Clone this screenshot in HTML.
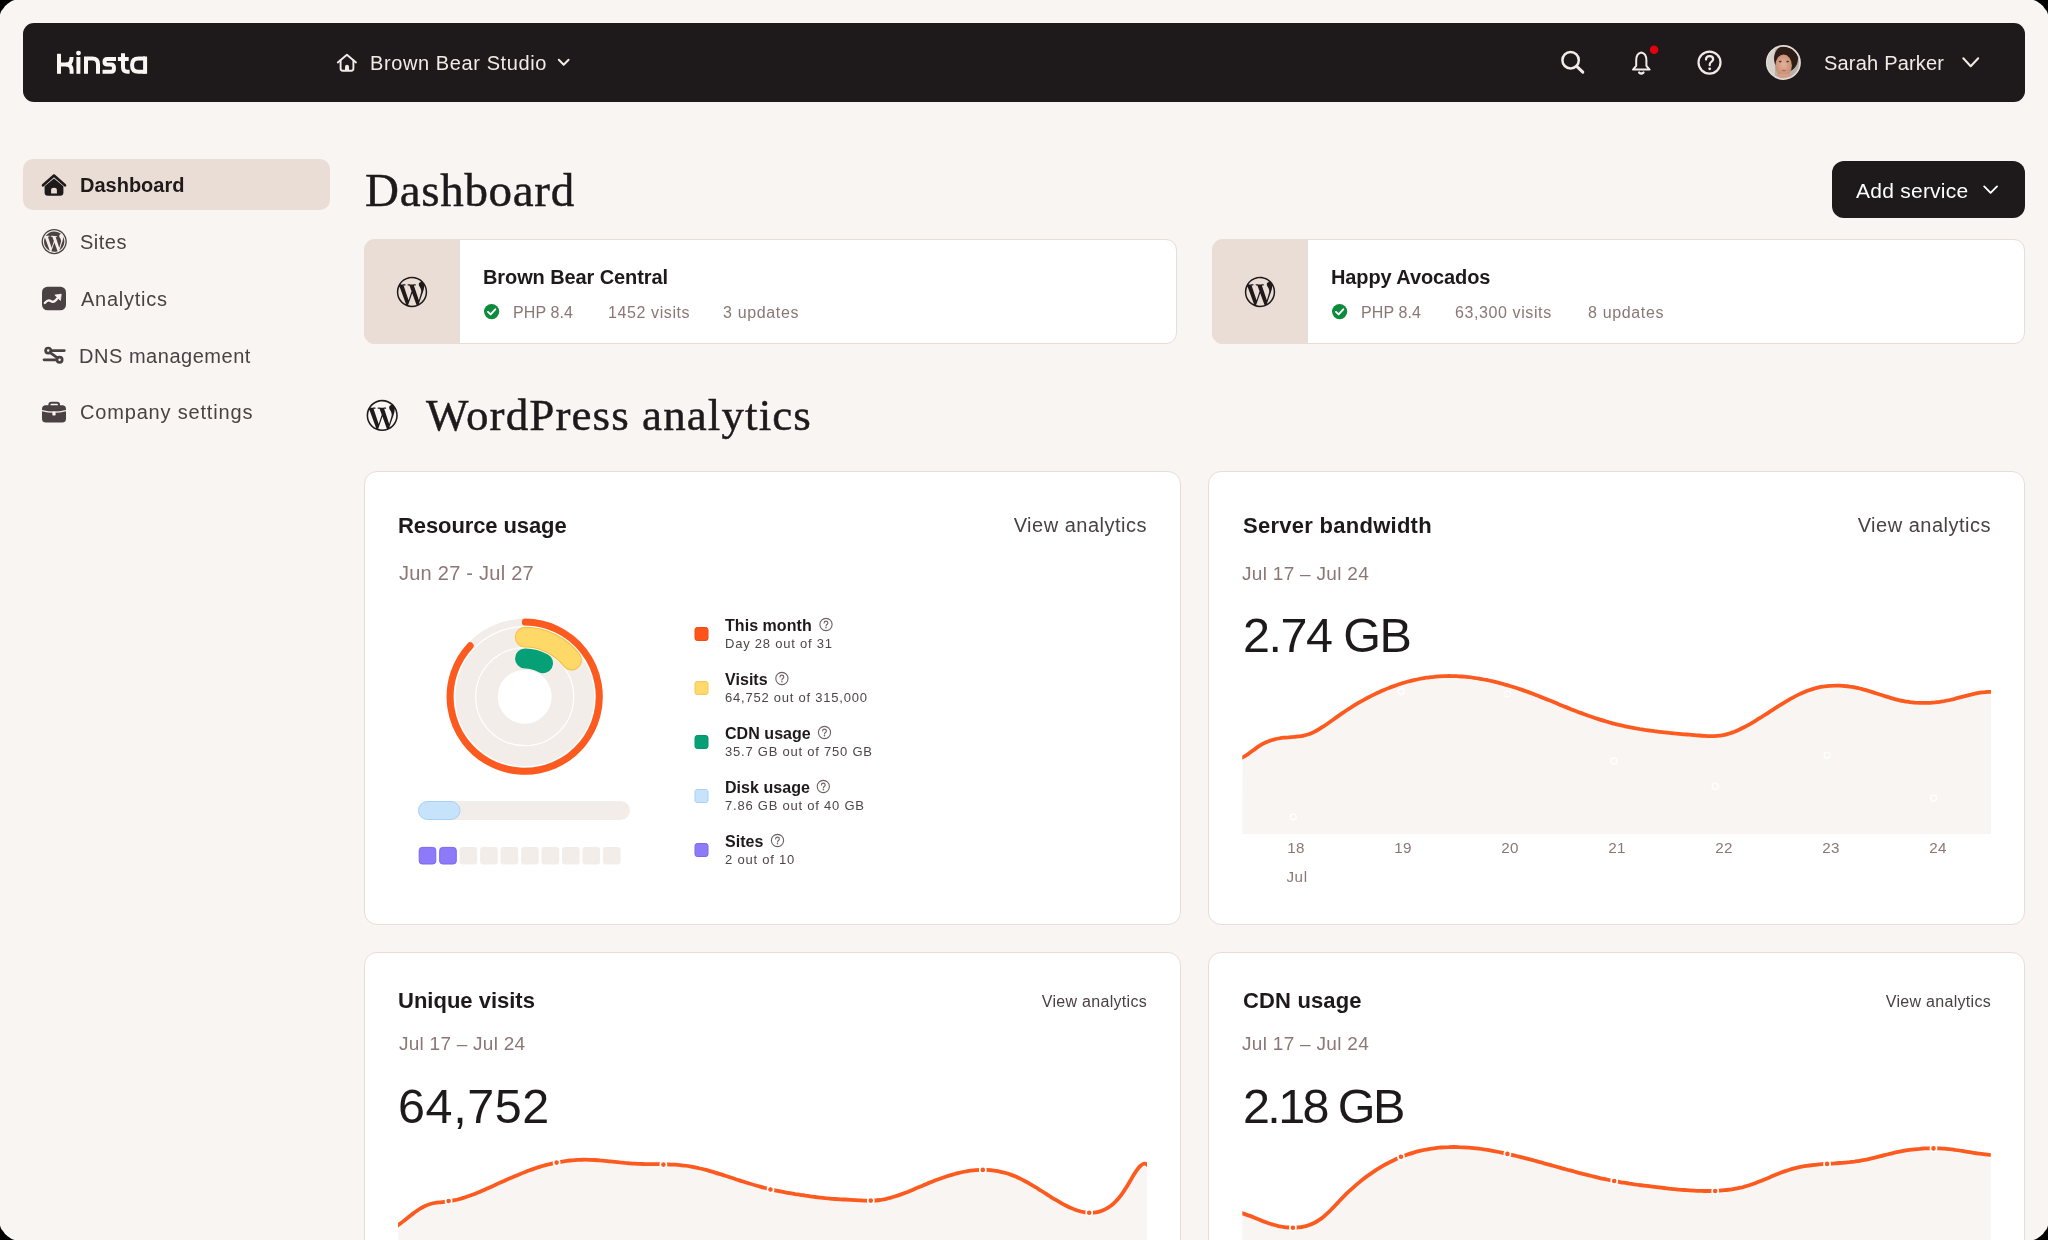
<!DOCTYPE html>
<html><head><meta charset="utf-8"><title>Kinsta Dashboard</title>
<style>
html,body{margin:0;padding:0;background:#000;width:2048px;height:1240px;overflow:hidden}
#page{position:absolute;left:0;top:0;width:2048px;height:1240px;background:#F9F5F2;overflow:hidden;font-family:"Liberation Sans",sans-serif}
.b{position:absolute;box-sizing:border-box}
.t{position:absolute;white-space:nowrap;will-change:transform}
svg{position:absolute;left:0;top:0}
</style></head><body>
<div id="page">
<div class="b" style="left:23px;top:23px;width:2002px;height:79px;background:#1E191A;border-radius:11px;"></div>
<div class="b" style="left:23px;top:159px;width:307px;height:51px;background:#EADDD5;border-radius:10px;"></div>
<div class="b" style="left:1832px;top:161px;width:193px;height:57px;background:#1E191A;border-radius:12px;"></div>
<div class="b" style="left:364px;top:239px;width:813px;height:105px;background:#FFFFFF;border-radius:11px;border:1px solid #EADDD7;overflow:hidden;"></div>
<div class="b" style="left:364px;top:239px;width:96px;height:105px;background:#EADDD5;border-radius:11px 0 0 11px"></div>
<div class="b" style="left:1212px;top:239px;width:813px;height:105px;background:#FFFFFF;border-radius:11px;border:1px solid #EADDD7;overflow:hidden;"></div>
<div class="b" style="left:1212px;top:239px;width:96px;height:105px;background:#EADDD5;border-radius:11px 0 0 11px"></div>
<div class="b" style="left:364px;top:471px;width:817px;height:454px;background:#FFFFFF;border-radius:13px;border:1px solid #EADDD7;"></div>
<div class="b" style="left:1208px;top:471px;width:817px;height:454px;background:#FFFFFF;border-radius:13px;border:1px solid #EADDD7;"></div>
<div class="b" style="left:364px;top:952px;width:817px;height:400px;background:#FFFFFF;border-radius:13px;border:1px solid #EADDD7;"></div>
<div class="b" style="left:1208px;top:952px;width:817px;height:400px;background:#FFFFFF;border-radius:13px;border:1px solid #EADDD7;"></div>
<div class="t" style="left:369.5px;top:53.0px;font-size:20px;line-height:20px;font-weight:400;color:#F2ECE8;letter-spacing:0.6px;">Brown Bear Studio</div>
<div class="t" style="left:1824.0px;top:53.0px;font-size:20px;line-height:20px;font-weight:400;color:#F2ECE8;letter-spacing:0.2px;">Sarah Parker</div>
<div class="t" style="left:80.0px;top:175.0px;font-size:20px;line-height:20px;font-weight:700;color:#1E191A;">Dashboard</div>
<div class="t" style="left:79.5px;top:231.6px;font-size:20px;line-height:20px;font-weight:400;color:#4A4143;letter-spacing:0.5px;">Sites</div>
<div class="t" style="left:81.0px;top:288.7px;font-size:20px;line-height:20px;font-weight:400;color:#4A4143;letter-spacing:0.75px;">Analytics</div>
<div class="t" style="left:79.2px;top:345.7px;font-size:20px;line-height:20px;font-weight:400;color:#4A4143;letter-spacing:0.53px;">DNS management</div>
<div class="t" style="left:80.0px;top:402.2px;font-size:20px;line-height:20px;font-weight:400;color:#4A4143;letter-spacing:0.82px;">Company settings</div>
<div class="t" style="left:364.5px;top:166.6px;font-size:47px;line-height:47px;font-weight:400;color:#1E191A;font-family:'Liberation Serif',serif;-webkit-text-stroke:0.45px #1E191A;letter-spacing:0.7px;">Dashboard</div>
<div class="t" style="left:1855.5px;top:179.5px;font-size:21px;line-height:21px;font-weight:400;color:#FFFFFF;letter-spacing:0.25px;">Add service</div>
<div class="t" style="left:483.0px;top:267.0px;font-size:20px;line-height:20px;font-weight:700;color:#1E191A;letter-spacing:-0.1px;">Brown Bear Central</div>
<div class="t" style="left:512.5px;top:304.7px;font-size:16px;line-height:16px;font-weight:400;color:#8B7775;letter-spacing:0.1px;">PHP 8.4</div>
<div class="t" style="left:607.5px;top:304.7px;font-size:16px;line-height:16px;font-weight:400;color:#8B7775;letter-spacing:0.6px;">1452 visits</div>
<div class="t" style="left:723.0px;top:304.7px;font-size:16px;line-height:16px;font-weight:400;color:#8B7775;letter-spacing:0.65px;">3 updates</div>
<div class="t" style="left:1331.0px;top:267.0px;font-size:20px;line-height:20px;font-weight:700;color:#1E191A;letter-spacing:-0.1px;">Happy Avocados</div>
<div class="t" style="left:1360.5px;top:304.7px;font-size:16px;line-height:16px;font-weight:400;color:#8B7775;letter-spacing:0.1px;">PHP 8.4</div>
<div class="t" style="left:1455.0px;top:304.7px;font-size:16px;line-height:16px;font-weight:400;color:#8B7775;letter-spacing:0.6px;">63,300 visits</div>
<div class="t" style="left:1587.5px;top:304.7px;font-size:16px;line-height:16px;font-weight:400;color:#8B7775;letter-spacing:0.65px;">8 updates</div>
<div class="t" style="left:425.5px;top:393.3px;font-size:45px;line-height:45px;font-weight:400;color:#1E191A;font-family:'Liberation Serif',serif;-webkit-text-stroke:0.45px #1E191A;letter-spacing:1.1px;">WordPress analytics</div>
<div class="t" style="left:398.0px;top:514.8px;font-size:22px;line-height:22px;font-weight:700;color:#1E191A;letter-spacing:-0.1px;">Resource usage</div>
<div class="t" style="left:1146.5px;top:515.1px;font-size:20px;line-height:20px;font-weight:400;color:#4A4143;letter-spacing:0.5px;transform:translateX(-100%);">View analytics</div>
<div class="t" style="left:398.5px;top:563.1px;font-size:20px;line-height:20px;font-weight:400;color:#8B7775;letter-spacing:0.25px;">Jun 27 - Jul 27</div>
<div class="t" style="left:725.0px;top:617.5px;font-size:16px;line-height:16px;font-weight:700;color:#1E191A;letter-spacing:0.05px;">This month</div>
<div class="t" style="left:725.0px;top:636.6px;font-size:13px;line-height:13px;font-weight:400;color:#4F4547;letter-spacing:0.77px;">Day 28 out of 31</div>
<div class="t" style="left:725.0px;top:671.5px;font-size:16px;line-height:16px;font-weight:700;color:#1E191A;letter-spacing:0.05px;">Visits</div>
<div class="t" style="left:725.0px;top:690.6px;font-size:13px;line-height:13px;font-weight:400;color:#4F4547;letter-spacing:0.77px;">64,752 out of 315,000</div>
<div class="t" style="left:725.0px;top:725.5px;font-size:16px;line-height:16px;font-weight:700;color:#1E191A;letter-spacing:0.05px;">CDN usage</div>
<div class="t" style="left:725.0px;top:744.6px;font-size:13px;line-height:13px;font-weight:400;color:#4F4547;letter-spacing:0.77px;">35.7 GB out of 750 GB</div>
<div class="t" style="left:725.0px;top:779.5px;font-size:16px;line-height:16px;font-weight:700;color:#1E191A;letter-spacing:0.05px;">Disk usage</div>
<div class="t" style="left:725.0px;top:798.6px;font-size:13px;line-height:13px;font-weight:400;color:#4F4547;letter-spacing:0.77px;">7.86 GB out of 40 GB</div>
<div class="t" style="left:725.0px;top:833.5px;font-size:16px;line-height:16px;font-weight:700;color:#1E191A;letter-spacing:0.05px;">Sites</div>
<div class="t" style="left:725.0px;top:852.6px;font-size:13px;line-height:13px;font-weight:400;color:#4F4547;letter-spacing:0.77px;">2 out of 10</div>
<div class="t" style="left:1242.5px;top:514.8px;font-size:22px;line-height:22px;font-weight:700;color:#1E191A;letter-spacing:0.27px;">Server bandwidth</div>
<div class="t" style="left:1990.5px;top:515.1px;font-size:20px;line-height:20px;font-weight:400;color:#4A4143;letter-spacing:0.5px;transform:translateX(-100%);">View analytics</div>
<div class="t" style="left:1241.5px;top:564.2px;font-size:19px;line-height:19px;font-weight:400;color:#8B7775;letter-spacing:0.3px;">Jul 17 – Jul 24</div>
<div class="t" style="left:1243.0px;top:610.9px;font-size:48.5px;line-height:48.5px;font-weight:400;color:#1E191A;letter-spacing:-1.5px;">2.74 GB</div>
<div class="t" style="left:1295.5px;top:839.5px;font-size:15.2px;line-height:15.2px;font-weight:400;color:#8B7775;letter-spacing:0.2px;transform:translateX(-50%);">18</div>
<div class="t" style="left:1402.5px;top:839.5px;font-size:15.2px;line-height:15.2px;font-weight:400;color:#8B7775;letter-spacing:0.2px;transform:translateX(-50%);">19</div>
<div class="t" style="left:1509.5px;top:839.5px;font-size:15.2px;line-height:15.2px;font-weight:400;color:#8B7775;letter-spacing:0.2px;transform:translateX(-50%);">20</div>
<div class="t" style="left:1616.5px;top:839.5px;font-size:15.2px;line-height:15.2px;font-weight:400;color:#8B7775;letter-spacing:0.2px;transform:translateX(-50%);">21</div>
<div class="t" style="left:1723.5px;top:839.5px;font-size:15.2px;line-height:15.2px;font-weight:400;color:#8B7775;letter-spacing:0.2px;transform:translateX(-50%);">22</div>
<div class="t" style="left:1830.5px;top:839.5px;font-size:15.2px;line-height:15.2px;font-weight:400;color:#8B7775;letter-spacing:0.2px;transform:translateX(-50%);">23</div>
<div class="t" style="left:1937.5px;top:839.5px;font-size:15.2px;line-height:15.2px;font-weight:400;color:#8B7775;letter-spacing:0.2px;transform:translateX(-50%);">24</div>
<div class="t" style="left:1296.5px;top:869.0px;font-size:15.2px;line-height:15.2px;font-weight:400;color:#8B7775;letter-spacing:0.6px;transform:translateX(-50%);">Jul</div>
<div class="t" style="left:398.0px;top:990.2px;font-size:22px;line-height:22px;font-weight:700;color:#1E191A;">Unique visits</div>
<div class="t" style="left:1146.5px;top:993.5px;font-size:16px;line-height:16px;font-weight:400;color:#4A4143;letter-spacing:0.3px;transform:translateX(-100%);">View analytics</div>
<div class="t" style="left:398.5px;top:1033.8px;font-size:19px;line-height:19px;font-weight:400;color:#8B7775;letter-spacing:0.25px;">Jul 17 – Jul 24</div>
<div class="t" style="left:398.0px;top:1081.7px;font-size:48.5px;line-height:48.5px;font-weight:400;color:#1E191A;letter-spacing:0.6px;">64,752</div>
<div class="t" style="left:1242.5px;top:990.2px;font-size:22px;line-height:22px;font-weight:700;color:#1E191A;letter-spacing:0.15px;">CDN usage</div>
<div class="t" style="left:1990.5px;top:993.5px;font-size:16px;line-height:16px;font-weight:400;color:#4A4143;letter-spacing:0.3px;transform:translateX(-100%);">View analytics</div>
<div class="t" style="left:1241.5px;top:1033.8px;font-size:19px;line-height:19px;font-weight:400;color:#8B7775;letter-spacing:0.3px;">Jul 17 – Jul 24</div>
<div class="t" style="left:1243.0px;top:1081.7px;font-size:48.5px;line-height:48.5px;font-weight:400;color:#1E191A;letter-spacing:-2.6px;">2.18 GB</div>
<svg width="2048" height="1240" viewBox="0 0 2048 1240">
<g fill="none" stroke="#F9F5F2" stroke-width="4"><path d="M59,53.8V73.8"/><path d="M61,64.5H66.5C70.5,64.5 71.6,61 71.6,57"/><path d="M66,64.5C70,64.5 71.6,67 71.6,70.5V73.8"/><path d="M78.4,57V73.8"/><path d="M86,73.8V58.5H92.5Q98,58.5 98,64.5V73.8"/><path d="M116,59H107.2Q104.5,59 104.5,61.75Q104.5,64.5 107.2,64.5H111Q114,64.5 114,68.15Q114,71.8 111,71.8H102.5"/><path d="M123,53.3V67.3Q123,71.8 127.5,71.8H129.6"/><path d="M117.9,59H128.7"/><path d="M145.1,73.8V56.5"/><path d="M145.1,58.5H138.5Q132.1,58.5 132.1,64.9V65.4Q132.1,71.8 138.5,71.8H145.1"/></g><circle cx="78.5" cy="53.1" r="2.45" fill="#F9F5F2"/>
<g fill="none" stroke="#F2ECE8" stroke-width="1.9" stroke-linejoin="round" stroke-linecap="round"><path d="M337.8,62.4L346.9,54.8L356,62.4"/><path d="M340.6,60.3V68.6Q340.6,70.8 342.8,70.8H351.2Q353.4,70.8 353.4,68.6V60.3"/></g><path d="M345,70.9V66.7Q345,64.7 347,64.7Q349,64.7 349,66.7V70.9Z" fill="#F2ECE8"/>
<path d="M558.8,59.8L563.7,64.7L568.6,59.8" fill="none" stroke="#F2ECE8" stroke-width="2" stroke-linecap="round" stroke-linejoin="round"/>
<g fill="none" stroke="#F2ECE8" stroke-linecap="round"><circle cx="1570.6" cy="60.2" r="8.2" stroke-width="2.5"/><path d="M1577,66.6L1582.8,72.2" stroke-width="3"/></g>
<g fill="none" stroke="#F2ECE8" stroke-width="2" stroke-linejoin="round" stroke-linecap="round"><path d="M1641.3,52.6C1638,53.2 1636.2,56 1636.2,60.5V65.8L1633,69.6H1649.6L1646.4,65.8V60.5C1646.4,56 1644.6,53.2 1641.3,52.6Z"/><circle cx="1641.3" cy="52" r="1.2" fill="{NAVTXT}" stroke="none"/><path d="M1639.2,72.6Q1641.3,74.4 1643.4,72.6" stroke-width="2.4"/></g><circle cx="1654.1" cy="49.8" r="4.3" fill="#E3000F"/>
<g fill="none" stroke="#F2ECE8" stroke-width="2.2" stroke-linecap="round"><circle cx="1709.5" cy="62.6" r="11"/><path d="M1706,59.6C1706,57.5 1707.6,56.2 1709.6,56.2C1711.6,56.2 1713.1,57.5 1713.1,59.3C1713.1,61.6 1709.7,62 1709.7,64.6V65.2"/></g><circle cx="1709.7" cy="68.8" r="1.4" fill="#F2ECE8"/>
<defs><clipPath id="av"><circle cx="1783.4" cy="62.5" r="16"/></clipPath><radialGradient id="skin" cx="0.5" cy="0.45" r="0.5"><stop offset="0" stop-color="#E2B29A"/><stop offset="1" stop-color="#C98F74"/></radialGradient></defs><g clip-path="url(#av)"><rect x="1766" y="45" width="36" height="36" fill="#B9B1AD"/><rect x="1766" y="45" width="9" height="36" fill="#D6D0CC"/><ellipse cx="1786" cy="58.5" rx="12" ry="13.5" fill="#2E1C17"/><ellipse cx="1783.6" cy="65.5" rx="8.3" ry="11" fill="url(#skin)"/><rect x="1777" y="74" width="14" height="9" fill="#D49D86"/><ellipse cx="1780.2" cy="61.6" rx="1.4" ry="0.8" fill="#4A3633"/><ellipse cx="1787.6" cy="61.6" rx="1.4" ry="0.8" fill="#4A3633"/><ellipse cx="1783.9" cy="70.6" rx="2.4" ry="0.8" fill="#B06F63"/></g><circle cx="1783.4" cy="62.5" r="16.6" fill="none" stroke="#E6DCD6" stroke-width="1.8"/>
<path d="M1963.3,58.3L1970.7,66.3L1978.2,58.3" fill="none" stroke="#F2ECE8" stroke-width="2" stroke-linecap="round" stroke-linejoin="round"/>
<path d="M43,185.3L54,175.6L65,185.3" fill="none" stroke="#1E191A" stroke-width="2.6" stroke-linecap="round" stroke-linejoin="round"/><path d="M44.6,186.3L54,178.6L63.4,186.3V192.5Q63.4,195.8 60.1,195.8H47.9Q44.6,195.8 44.6,192.5Z" fill="#1E191A"/><path d="M51.1,193.6V190Q51.1,187.7 54,187.7Q56.9,187.7 56.9,190V193.6Z" fill="#EADDD5"/>
<circle cx="54.2" cy="241.6" r="12.6" fill="#4A4143"/><path fill="#F3EEEA" transform="translate(42.90,230.30) scale(0.9417)" d="M21.469 6.825c.84 1.537 1.318 3.3 1.318 5.175 0 3.979-2.156 7.456-5.363 9.325l3.295-9.527c.615-1.54.82-2.771.82-3.864 0-.405-.026-.78-.07-1.11m-7.981.105c.647-.03 1.232-.105 1.232-.105.582-.075.514-.93-.067-.899 0 0-1.755.135-2.88.135-1.064 0-2.85-.15-2.85-.15-.585-.03-.661.855-.075.885 0 0 .54.061 1.125.09l1.68 4.605-2.37 7.08L5.354 6.9c.649-.03 1.234-.1 1.234-.1.585-.075.516-.93-.065-.896 0 0-1.746.138-2.874.138-.2 0-.438-.008-.69-.015C4.911 3.15 8.235 1.215 12 1.215c2.809 0 5.365 1.072 7.286 2.833-.046-.003-.091-.009-.141-.009-1.06 0-1.812.923-1.812 1.914 0 .89.513 1.643 1.06 2.531.411.72.89 1.643.89 2.977 0 .915-.354 1.994-.821 3.479l-1.075 3.585-3.9-11.61.001.014zM12 22.784c-1.059 0-2.081-.153-3.048-.437l3.237-9.406 3.315 9.087c.024.053.05.101.078.149-1.12.393-2.325.609-3.582.609M1.211 12c0-1.564.336-3.05.935-4.39L7.29 21.709C3.694 19.96 1.212 16.271 1.211 12M12 0C5.385 0 0 5.385 0 12s5.385 12 12 12 12-5.385 12-12S18.615 0 12 0"/>
<rect x="42" y="286.7" width="24" height="23.6" rx="5.5" fill="#4A4143"/><path d="M44.8,303C46.6,301 48.3,299.9 49.8,300.6C51.4,301.4 52.6,302.6 54.6,301.2C56,300.2 57.4,298.4 58.6,297" fill="none" stroke="#F8F4F1" stroke-width="2.3" stroke-linecap="round" stroke-linejoin="round"/><path d="M61.2,294.2L54.9,295.1L60.4,300.4Z" fill="#F8F4F1" stroke="#F8F4F1" stroke-width="0.8" stroke-linejoin="round"/>
<g fill="none" stroke="#4A4143" stroke-width="2.7" stroke-linecap="round"><circle cx="48.2" cy="350.6" r="2.6"/><path d="M51.3,350.6H64.3"/><circle cx="59.6" cy="359.8" r="2.6"/><path d="M44,359.8H56.4"/><path d="M50.2,352.6L57.4,357.8"/></g>
<rect x="49.4" y="402.8" width="9.6" height="5" rx="2" fill="none" stroke="#4A4143" stroke-width="2.1"/><rect x="42" y="405.2" width="24" height="17.4" rx="3.8" fill="#4A4143"/><path d="M42,410.6Q54,413.8 66,410.6" fill="none" stroke="#F8F4F1" stroke-width="1.3"/><rect x="52.4" y="411.6" width="3.2" height="4" rx="0.8" fill="#F8F4F1"/>
<path d="M1984.2,186.4L1990.6,192.8L1997,186.4" fill="none" stroke="#FFFFFF" stroke-width="1.9" stroke-linecap="round" stroke-linejoin="round"/>
<path fill="#1E191A" transform="translate(396.80,276.80) scale(1.2667)" d="M21.469 6.825c.84 1.537 1.318 3.3 1.318 5.175 0 3.979-2.156 7.456-5.363 9.325l3.295-9.527c.615-1.54.82-2.771.82-3.864 0-.405-.026-.78-.07-1.11m-7.981.105c.647-.03 1.232-.105 1.232-.105.582-.075.514-.93-.067-.899 0 0-1.755.135-2.88.135-1.064 0-2.85-.15-2.85-.15-.585-.03-.661.855-.075.885 0 0 .54.061 1.125.09l1.68 4.605-2.37 7.08L5.354 6.9c.649-.03 1.234-.1 1.234-.1.585-.075.516-.93-.065-.896 0 0-1.746.138-2.874.138-.2 0-.438-.008-.69-.015C4.911 3.15 8.235 1.215 12 1.215c2.809 0 5.365 1.072 7.286 2.833-.046-.003-.091-.009-.141-.009-1.06 0-1.812.923-1.812 1.914 0 .89.513 1.643 1.06 2.531.411.72.89 1.643.89 2.977 0 .915-.354 1.994-.821 3.479l-1.075 3.585-3.9-11.61.001.014zM12 22.784c-1.059 0-2.081-.153-3.048-.437l3.237-9.406 3.315 9.087c.024.053.05.101.078.149-1.12.393-2.325.609-3.582.609M1.211 12c0-1.564.336-3.05.935-4.39L7.29 21.709C3.694 19.96 1.212 16.271 1.211 12M12 0C5.385 0 0 5.385 0 12s5.385 12 12 12 12-5.385 12-12S18.615 0 12 0"/>
<circle cx="491.6" cy="311.6" r="7.6" fill="#0E8A3D"/><path d="M488,311.9L490.6,314.4L495.3,309.3" fill="none" stroke="#fff" stroke-width="1.9" stroke-linecap="round" stroke-linejoin="round"/>
<path fill="#1E191A" transform="translate(1244.80,276.80) scale(1.2667)" d="M21.469 6.825c.84 1.537 1.318 3.3 1.318 5.175 0 3.979-2.156 7.456-5.363 9.325l3.295-9.527c.615-1.54.82-2.771.82-3.864 0-.405-.026-.78-.07-1.11m-7.981.105c.647-.03 1.232-.105 1.232-.105.582-.075.514-.93-.067-.899 0 0-1.755.135-2.88.135-1.064 0-2.85-.15-2.85-.15-.585-.03-.661.855-.075.885 0 0 .54.061 1.125.09l1.68 4.605-2.37 7.08L5.354 6.9c.649-.03 1.234-.1 1.234-.1.585-.075.516-.93-.065-.896 0 0-1.746.138-2.874.138-.2 0-.438-.008-.69-.015C4.911 3.15 8.235 1.215 12 1.215c2.809 0 5.365 1.072 7.286 2.833-.046-.003-.091-.009-.141-.009-1.06 0-1.812.923-1.812 1.914 0 .89.513 1.643 1.06 2.531.411.72.89 1.643.89 2.977 0 .915-.354 1.994-.821 3.479l-1.075 3.585-3.9-11.61.001.014zM12 22.784c-1.059 0-2.081-.153-3.048-.437l3.237-9.406 3.315 9.087c.024.053.05.101.078.149-1.12.393-2.325.609-3.582.609M1.211 12c0-1.564.336-3.05.935-4.39L7.29 21.709C3.694 19.96 1.212 16.271 1.211 12M12 0C5.385 0 0 5.385 0 12s5.385 12 12 12 12-5.385 12-12S18.615 0 12 0"/>
<circle cx="1339.6" cy="311.6" r="7.6" fill="#0E8A3D"/><path d="M1336,311.9L1338.6,314.4L1343.3,309.3" fill="none" stroke="#fff" stroke-width="1.9" stroke-linecap="round" stroke-linejoin="round"/>
<path fill="#1E191A" transform="translate(366.60,399.80) scale(1.3000)" d="M21.469 6.825c.84 1.537 1.318 3.3 1.318 5.175 0 3.979-2.156 7.456-5.363 9.325l3.295-9.527c.615-1.54.82-2.771.82-3.864 0-.405-.026-.78-.07-1.11m-7.981.105c.647-.03 1.232-.105 1.232-.105.582-.075.514-.93-.067-.899 0 0-1.755.135-2.88.135-1.064 0-2.85-.15-2.85-.15-.585-.03-.661.855-.075.885 0 0 .54.061 1.125.09l1.68 4.605-2.37 7.08L5.354 6.9c.649-.03 1.234-.1 1.234-.1.585-.075.516-.93-.065-.896 0 0-1.746.138-2.874.138-.2 0-.438-.008-.69-.015C4.911 3.15 8.235 1.215 12 1.215c2.809 0 5.365 1.072 7.286 2.833-.046-.003-.091-.009-.141-.009-1.06 0-1.812.923-1.812 1.914 0 .89.513 1.643 1.06 2.531.411.72.89 1.643.89 2.977 0 .915-.354 1.994-.821 3.479l-1.075 3.585-3.9-11.61.001.014zM12 22.784c-1.059 0-2.081-.153-3.048-.437l3.237-9.406 3.315 9.087c.024.053.05.101.078.149-1.12.393-2.325.609-3.582.609M1.211 12c0-1.564.336-3.05.935-4.39L7.29 21.709C3.694 19.96 1.212 16.271 1.211 12M12 0C5.385 0 0 5.385 0 12s5.385 12 12 12 12-5.385 12-12S18.615 0 12 0"/>
<circle cx="524.7" cy="696.7" r="78" fill="#F3EDE9"/><circle cx="524.7" cy="696.7" r="70" fill="none" stroke="#FFFFFF" stroke-width="1.2"/><circle cx="524.7" cy="696.7" r="49" fill="none" stroke="#FFFFFF" stroke-width="1.2"/><circle cx="524.7" cy="696.7" r="27" fill="#FFFFFF"/>
<path d="M525.35,622.10A74.6,74.6 0 1 1 470.14,645.82" fill="none" stroke="#FC5A1E" stroke-width="7" stroke-linecap="round"/>
<path d="M525.22,637.20A59.5,59.5 0 0 1 571.59,660.07" fill="none" stroke="#F5BF3E" stroke-width="20.8" stroke-linecap="round"/>
<path d="M525.22,637.20A59.5,59.5 0 0 1 571.59,660.07" fill="none" stroke="#FFD967" stroke-width="18.8" stroke-linecap="round"/>
<path d="M525.03,658.50A38.2,38.2 0 0 1 543.10,663.23" fill="none" stroke="#05A076" stroke-width="20" stroke-linecap="round"/>
<rect x="418" y="801" width="212" height="19" rx="9.5" fill="#F3EDE9"/><rect x="418.5" y="801.5" width="41.5" height="18" rx="9" fill="#C7E2FB" stroke="#A8D0F8" stroke-width="1"/>
<rect x="419.20" y="847.4" width="16.6" height="16.6" rx="3" fill="#8C7AF8" stroke="#7A66F2" stroke-width="1"/><rect x="439.68" y="847.4" width="16.6" height="16.6" rx="3" fill="#8C7AF8" stroke="#7A66F2" stroke-width="1"/><rect x="459.66" y="846.9" width="17.6" height="17.6" rx="3" fill="#F3EDE9"/><rect x="480.14" y="846.9" width="17.6" height="17.6" rx="3" fill="#F3EDE9"/><rect x="500.62" y="846.9" width="17.6" height="17.6" rx="3" fill="#F3EDE9"/><rect x="521.10" y="846.9" width="17.6" height="17.6" rx="3" fill="#F3EDE9"/><rect x="541.58" y="846.9" width="17.6" height="17.6" rx="3" fill="#F3EDE9"/><rect x="562.06" y="846.9" width="17.6" height="17.6" rx="3" fill="#F3EDE9"/><rect x="582.54" y="846.9" width="17.6" height="17.6" rx="3" fill="#F3EDE9"/><rect x="603.02" y="846.9" width="17.6" height="17.6" rx="3" fill="#F3EDE9"/>
<rect x="695" y="627.5" width="13" height="13" rx="2.2" fill="#FD5419" stroke="#F04A12" stroke-width="1"/>
<circle cx="826" cy="624.5" r="6.1" fill="none" stroke="#6E6062" stroke-width="1.1"/><path d="M824.1,623.0C824.1,621.6 825.0,621.1 826.0,621.1C827.1,621.1 827.9,621.8 827.9,622.9C827.9,624.3 826.0,624.6 826.0,625.9" fill="none" stroke="#6E6062" stroke-width="1.1" stroke-linecap="round"/><circle cx="826" cy="627.7" r="0.8" fill="#6E6062"/>
<rect x="695" y="681.5" width="13" height="13" rx="2.2" fill="#FFD96B" stroke="#F9C84A" stroke-width="1"/>
<circle cx="781.9" cy="678.5" r="6.1" fill="none" stroke="#6E6062" stroke-width="1.1"/><path d="M780.0,677.0C780.0,675.6 780.9,675.1 781.9,675.1C783.0,675.1 783.8,675.8 783.8,676.9C783.8,678.3 781.9,678.6 781.9,679.9" fill="none" stroke="#6E6062" stroke-width="1.1" stroke-linecap="round"/><circle cx="781.9" cy="681.7" r="0.8" fill="#6E6062"/>
<rect x="695" y="735.5" width="13" height="13" rx="2.2" fill="#05A076" stroke="#05956D" stroke-width="1"/>
<circle cx="824.5" cy="732.5" r="6.1" fill="none" stroke="#6E6062" stroke-width="1.1"/><path d="M822.6,731.0C822.6,729.6 823.5,729.1 824.5,729.1C825.6,729.1 826.4,729.8 826.4,730.9C826.4,732.3 824.5,732.6 824.5,733.9" fill="none" stroke="#6E6062" stroke-width="1.1" stroke-linecap="round"/><circle cx="824.5" cy="735.7" r="0.8" fill="#6E6062"/>
<rect x="695" y="789.5" width="13" height="13" rx="2.2" fill="#C7E2FB" stroke="#A8D0F8" stroke-width="1"/>
<circle cx="823.3" cy="786.5" r="6.1" fill="none" stroke="#6E6062" stroke-width="1.1"/><path d="M821.4,785.0C821.4,783.6 822.3,783.1 823.3,783.1C824.4,783.1 825.2,783.8 825.2,784.9C825.2,786.3 823.3,786.6 823.3,787.9" fill="none" stroke="#6E6062" stroke-width="1.1" stroke-linecap="round"/><circle cx="823.3" cy="789.7" r="0.8" fill="#6E6062"/>
<rect x="695" y="843.5" width="13" height="13" rx="2.2" fill="#8C7AF8" stroke="#7A66F2" stroke-width="1"/>
<circle cx="777.5" cy="840.5" r="6.1" fill="none" stroke="#6E6062" stroke-width="1.1"/><path d="M775.6,839.0C775.6,837.6 776.5,837.1 777.5,837.1C778.6,837.1 779.4,837.8 779.4,838.9C779.4,840.3 777.5,840.6 777.5,841.9" fill="none" stroke="#6E6062" stroke-width="1.1" stroke-linecap="round"/><circle cx="777.5" cy="843.7" r="0.8" fill="#6E6062"/>
<defs><clipPath id="cc1"><rect x="1242.3" y="0" width="748.7" height="1240"/></clipPath></defs>
<path d="M1242.6,757.5 C1243.4,756.9 1245.9,755.5 1247.6,754.4 C1249.3,753.3 1251.0,752.0 1252.6,750.7 C1254.3,749.5 1256.0,748.2 1257.7,747.1 C1259.3,745.9 1261.0,744.8 1262.7,743.9 C1264.4,743.0 1266.0,742.2 1267.7,741.5 C1269.4,740.9 1271.1,740.3 1272.7,739.8 C1274.4,739.3 1276.1,739.0 1277.8,738.6 C1279.4,738.3 1281.1,738.1 1282.8,737.8 C1284.5,737.6 1286.1,737.5 1287.8,737.3 C1289.5,737.2 1291.2,737.1 1292.8,736.9 C1294.5,736.8 1296.2,736.7 1297.9,736.5 C1299.5,736.3 1301.2,736.1 1302.9,735.8 C1304.5,735.5 1306.2,735.1 1307.9,734.5 C1309.6,734.0 1311.2,733.3 1312.9,732.5 C1314.6,731.8 1316.3,730.8 1317.9,729.8 C1319.6,728.9 1321.3,727.8 1323.0,726.7 C1324.6,725.6 1326.3,724.4 1328.0,723.3 C1329.7,722.1 1331.3,720.9 1333.0,719.7 C1334.7,718.5 1336.4,717.3 1338.0,716.1 C1339.7,715.0 1341.4,713.8 1343.1,712.7 C1344.7,711.5 1346.4,710.4 1348.1,709.3 C1349.8,708.3 1351.4,707.2 1353.1,706.2 C1354.8,705.1 1356.5,704.1 1358.1,703.1 C1359.8,702.1 1361.5,701.2 1363.1,700.3 C1364.8,699.3 1366.5,698.4 1368.2,697.5 C1369.8,696.7 1371.5,695.8 1373.2,695.0 C1374.9,694.1 1376.5,693.3 1378.2,692.6 C1379.9,691.8 1381.6,691.0 1383.2,690.3 C1384.9,689.6 1386.6,688.9 1388.3,688.2 C1389.9,687.5 1391.6,686.9 1393.3,686.3 C1395.0,685.7 1396.6,685.1 1398.3,684.5 C1400.0,684.0 1401.7,683.4 1403.3,682.9 C1405.0,682.4 1406.7,681.9 1408.4,681.5 C1410.0,681.0 1411.7,680.6 1413.4,680.2 C1415.1,679.8 1416.7,679.4 1418.4,679.1 C1420.1,678.8 1421.7,678.5 1423.4,678.2 C1425.1,677.9 1426.8,677.6 1428.4,677.4 C1430.1,677.2 1431.8,677.0 1433.5,676.8 C1435.1,676.6 1436.8,676.5 1438.5,676.4 C1440.2,676.3 1441.8,676.2 1443.5,676.1 C1445.2,676.1 1446.9,676.1 1448.5,676.0 C1450.2,676.0 1451.9,676.1 1453.6,676.1 C1455.2,676.1 1456.9,676.2 1458.6,676.3 C1460.3,676.4 1461.9,676.5 1463.6,676.7 C1465.3,676.8 1467.0,677.0 1468.6,677.2 C1470.3,677.4 1472.0,677.6 1473.6,677.8 C1475.3,678.0 1477.0,678.3 1478.7,678.6 C1480.3,678.8 1482.0,679.1 1483.7,679.4 C1485.4,679.8 1487.0,680.1 1488.7,680.5 C1490.4,680.8 1492.1,681.2 1493.7,681.6 C1495.4,682.0 1497.1,682.4 1498.8,682.8 C1500.4,683.3 1502.1,683.7 1503.8,684.2 C1505.5,684.6 1507.1,685.1 1508.8,685.6 C1510.5,686.1 1512.2,686.6 1513.8,687.2 C1515.5,687.7 1517.2,688.2 1518.9,688.8 C1520.5,689.4 1522.2,689.9 1523.9,690.5 C1525.6,691.1 1527.2,691.7 1528.9,692.3 C1530.6,692.9 1532.2,693.6 1533.9,694.2 C1535.6,694.9 1537.3,695.5 1538.9,696.2 C1540.6,696.8 1542.3,697.5 1544.0,698.2 C1545.6,698.8 1547.3,699.5 1549.0,700.2 C1550.7,700.9 1552.3,701.6 1554.0,702.3 C1555.7,702.9 1557.4,703.6 1559.0,704.3 C1560.7,705.0 1562.4,705.7 1564.1,706.4 C1565.7,707.0 1567.4,707.7 1569.1,708.4 C1570.8,709.1 1572.4,709.7 1574.1,710.4 C1575.8,711.0 1577.5,711.7 1579.1,712.3 C1580.8,713.0 1582.5,713.6 1584.2,714.2 C1585.8,714.8 1587.5,715.4 1589.2,716.0 C1590.8,716.6 1592.5,717.2 1594.2,717.7 C1595.9,718.3 1597.5,718.8 1599.2,719.4 C1600.9,719.9 1602.6,720.4 1604.2,720.9 C1605.9,721.4 1607.6,721.9 1609.3,722.4 C1610.9,722.8 1612.6,723.3 1614.3,723.7 C1616.0,724.2 1617.6,724.6 1619.3,725.0 C1621.0,725.4 1622.7,725.8 1624.3,726.1 C1626.0,726.5 1627.7,726.8 1629.4,727.2 C1631.0,727.5 1632.7,727.8 1634.4,728.1 C1636.1,728.4 1637.7,728.7 1639.4,729.0 C1641.1,729.3 1642.8,729.5 1644.4,729.8 C1646.1,730.0 1647.8,730.3 1649.4,730.5 C1651.1,730.7 1652.8,731.0 1654.5,731.2 C1656.1,731.4 1657.8,731.6 1659.5,731.8 C1661.2,732.0 1662.8,732.2 1664.5,732.3 C1666.2,732.5 1667.9,732.7 1669.5,732.9 C1671.2,733.0 1672.9,733.2 1674.6,733.4 C1676.2,733.5 1677.9,733.7 1679.6,733.9 C1681.3,734.0 1682.9,734.2 1684.6,734.3 C1686.3,734.5 1688.0,734.6 1689.6,734.7 C1691.3,734.9 1693.0,735.0 1694.7,735.2 C1696.3,735.3 1698.0,735.4 1699.7,735.6 C1701.4,735.7 1703.0,735.8 1704.7,735.9 C1706.4,736.0 1708.0,736.1 1709.7,736.2 C1711.4,736.2 1713.1,736.2 1714.7,736.1 C1716.4,736.1 1718.1,735.9 1719.8,735.7 C1721.4,735.5 1723.1,735.2 1724.8,734.8 C1726.5,734.4 1728.1,733.9 1729.8,733.4 C1731.5,732.8 1733.2,732.2 1734.8,731.5 C1736.5,730.9 1738.2,730.1 1739.9,729.4 C1741.5,728.6 1743.2,727.7 1744.9,726.8 C1746.6,726.0 1748.2,725.0 1749.9,724.1 C1751.6,723.1 1753.3,722.1 1754.9,721.1 C1756.6,720.1 1758.3,719.0 1760.0,718.0 C1761.6,716.9 1763.3,715.8 1765.0,714.8 C1766.6,713.7 1768.3,712.6 1770.0,711.5 C1771.7,710.4 1773.3,709.3 1775.0,708.3 C1776.7,707.2 1778.4,706.1 1780.0,705.1 C1781.7,704.1 1783.4,703.0 1785.1,702.0 C1786.7,701.0 1788.4,700.1 1790.1,699.1 C1791.8,698.2 1793.4,697.3 1795.1,696.4 C1796.8,695.5 1798.5,694.7 1800.1,693.9 C1801.8,693.1 1803.5,692.4 1805.2,691.7 C1806.8,691.0 1808.5,690.4 1810.2,689.8 C1811.9,689.2 1813.5,688.7 1815.2,688.3 C1816.9,687.8 1818.5,687.5 1820.2,687.1 C1821.9,686.8 1823.6,686.5 1825.2,686.3 C1826.9,686.1 1828.6,685.9 1830.3,685.8 C1831.9,685.7 1833.6,685.6 1835.3,685.6 C1837.0,685.6 1838.6,685.6 1840.3,685.7 C1842.0,685.7 1843.7,685.9 1845.3,686.0 C1847.0,686.2 1848.7,686.4 1850.4,686.7 C1852.0,686.9 1853.7,687.2 1855.4,687.6 C1857.1,687.9 1858.7,688.3 1860.4,688.7 C1862.1,689.1 1863.8,689.5 1865.4,690.0 C1867.1,690.5 1868.8,691.0 1870.5,691.5 C1872.1,692.0 1873.8,692.6 1875.5,693.1 C1877.1,693.6 1878.8,694.2 1880.5,694.7 C1882.2,695.3 1883.8,695.8 1885.5,696.3 C1887.2,696.9 1888.9,697.4 1890.5,697.9 C1892.2,698.4 1893.9,698.8 1895.6,699.3 C1897.2,699.7 1898.9,700.1 1900.6,700.5 C1902.3,700.8 1903.9,701.2 1905.6,701.4 C1907.3,701.7 1909.0,702.0 1910.6,702.2 C1912.3,702.4 1914.0,702.5 1915.7,702.6 C1917.3,702.8 1919.0,702.8 1920.7,702.9 C1922.4,702.9 1924.0,702.9 1925.7,702.9 C1927.4,702.9 1929.1,702.8 1930.7,702.7 C1932.4,702.6 1934.1,702.5 1935.7,702.3 C1937.4,702.1 1939.1,701.9 1940.8,701.7 C1942.4,701.4 1944.1,701.1 1945.8,700.8 C1947.5,700.5 1949.1,700.1 1950.8,699.8 C1952.5,699.4 1954.2,698.9 1955.8,698.5 C1957.5,698.1 1959.2,697.6 1960.9,697.2 C1962.5,696.7 1964.2,696.3 1965.9,695.8 C1967.6,695.4 1969.2,695.0 1970.9,694.6 C1972.6,694.1 1974.3,693.8 1975.9,693.4 C1977.6,693.1 1979.3,692.8 1981.0,692.5 C1982.6,692.3 1984.3,692.1 1986.0,692.0 C1987.7,691.9 1990.2,691.9 1991.0,691.9 L1991,834 L1242.3,834 Z" fill="#F9F5F2"/>
<path d="M1238.6,759.0 C1239.4,758.7 1241.9,757.8 1243.6,756.9 C1245.3,756.0 1246.9,754.9 1248.6,753.7 C1250.3,752.6 1252.0,751.2 1253.6,750.0 C1255.3,748.8 1257.0,747.5 1258.6,746.4 C1260.3,745.3 1262.0,744.3 1263.6,743.4 C1265.3,742.5 1267.0,741.8 1268.7,741.2 C1270.3,740.5 1272.0,740.0 1273.7,739.6 C1275.3,739.1 1277.0,738.8 1278.7,738.5 C1280.3,738.2 1282.0,737.9 1283.7,737.7 C1285.4,737.5 1287.0,737.4 1288.7,737.3 C1290.4,737.1 1292.0,737.0 1293.7,736.9 C1295.4,736.7 1297.0,736.6 1298.7,736.4 C1300.4,736.2 1302.1,736.0 1303.7,735.6 C1305.4,735.3 1307.1,734.8 1308.7,734.3 C1310.4,733.7 1312.1,733.0 1313.7,732.1 C1315.4,731.3 1317.1,730.4 1318.7,729.4 C1320.4,728.4 1322.1,727.3 1323.8,726.2 C1325.4,725.1 1327.1,723.9 1328.8,722.7 C1330.4,721.6 1332.1,720.4 1333.8,719.2 C1335.4,718.0 1337.1,716.8 1338.8,715.6 C1340.5,714.5 1342.1,713.3 1343.8,712.2 C1345.5,711.0 1347.1,709.9 1348.8,708.9 C1350.5,707.8 1352.1,706.7 1353.8,705.7 C1355.5,704.7 1357.2,703.7 1358.8,702.7 C1360.5,701.7 1362.2,700.8 1363.8,699.9 C1365.5,699.0 1367.2,698.1 1368.8,697.2 C1370.5,696.3 1372.2,695.5 1373.9,694.6 C1375.5,693.8 1377.2,693.0 1378.9,692.3 C1380.5,691.5 1382.2,690.7 1383.9,690.0 C1385.5,689.3 1387.2,688.6 1388.9,688.0 C1390.5,687.3 1392.2,686.7 1393.9,686.1 C1395.6,685.5 1397.2,684.9 1398.9,684.3 C1400.6,683.8 1402.2,683.2 1403.9,682.7 C1405.6,682.2 1407.2,681.8 1408.9,681.3 C1410.6,680.9 1412.3,680.5 1413.9,680.1 C1415.6,679.7 1417.3,679.3 1418.9,679.0 C1420.6,678.7 1422.3,678.4 1423.9,678.1 C1425.6,677.8 1427.3,677.6 1429.0,677.3 C1430.6,677.1 1432.3,676.9 1434.0,676.8 C1435.6,676.6 1437.3,676.5 1439.0,676.4 C1440.6,676.3 1442.3,676.2 1444.0,676.1 C1445.6,676.1 1447.3,676.0 1449.0,676.0 C1450.7,676.0 1452.3,676.1 1454.0,676.1 C1455.7,676.2 1457.3,676.2 1459.0,676.3 C1460.7,676.4 1462.3,676.6 1464.0,676.7 C1465.7,676.9 1467.4,677.0 1469.0,677.2 C1470.7,677.4 1472.4,677.6 1474.0,677.9 C1475.7,678.1 1477.4,678.3 1479.0,678.6 C1480.7,678.9 1482.4,679.2 1484.1,679.5 C1485.7,679.8 1487.4,680.2 1489.1,680.5 C1490.7,680.9 1492.4,681.3 1494.1,681.7 C1495.7,682.1 1497.4,682.5 1499.1,682.9 C1500.8,683.3 1502.4,683.8 1504.1,684.3 C1505.8,684.7 1507.4,685.2 1509.1,685.7 C1510.8,686.2 1512.4,686.7 1514.1,687.2 C1515.8,687.8 1517.4,688.3 1519.1,688.9 C1520.8,689.4 1522.5,690.0 1524.1,690.6 C1525.8,691.2 1527.5,691.8 1529.1,692.4 C1530.8,693.0 1532.5,693.7 1534.1,694.3 C1535.8,694.9 1537.5,695.6 1539.2,696.2 C1540.8,696.9 1542.5,697.6 1544.2,698.2 C1545.8,698.9 1547.5,699.6 1549.2,700.3 C1550.8,700.9 1552.5,701.6 1554.2,702.3 C1555.9,703.0 1557.5,703.7 1559.2,704.4 C1560.9,705.1 1562.5,705.7 1564.2,706.4 C1565.9,707.1 1567.5,707.8 1569.2,708.4 C1570.9,709.1 1572.6,709.8 1574.2,710.4 C1575.9,711.1 1577.6,711.7 1579.2,712.4 C1580.9,713.0 1582.6,713.6 1584.2,714.2 C1585.9,714.8 1587.6,715.4 1589.2,716.0 C1590.9,716.6 1592.6,717.2 1594.3,717.7 C1595.9,718.3 1597.6,718.8 1599.3,719.4 C1600.9,719.9 1602.6,720.4 1604.3,720.9 C1605.9,721.4 1607.6,721.9 1609.3,722.4 C1611.0,722.8 1612.6,723.3 1614.3,723.7 C1616.0,724.2 1617.6,724.6 1619.3,725.0 C1621.0,725.4 1622.6,725.8 1624.3,726.1 C1626.0,726.5 1627.7,726.8 1629.3,727.2 C1631.0,727.5 1632.7,727.8 1634.3,728.1 C1636.0,728.4 1637.7,728.7 1639.3,729.0 C1641.0,729.3 1642.7,729.5 1644.4,729.8 C1646.0,730.0 1647.7,730.3 1649.4,730.5 C1651.0,730.7 1652.7,730.9 1654.4,731.2 C1656.0,731.4 1657.7,731.6 1659.4,731.8 C1661.0,732.0 1662.7,732.2 1664.4,732.3 C1666.1,732.5 1667.7,732.7 1669.4,732.9 C1671.1,733.0 1672.7,733.2 1674.4,733.4 C1676.1,733.5 1677.7,733.7 1679.4,733.8 C1681.1,734.0 1682.8,734.1 1684.4,734.3 C1686.1,734.4 1687.8,734.6 1689.4,734.7 C1691.1,734.9 1692.8,735.0 1694.4,735.1 C1696.1,735.3 1697.8,735.4 1699.5,735.5 C1701.1,735.7 1702.8,735.8 1704.5,735.9 C1706.1,736.0 1707.8,736.1 1709.5,736.1 C1711.1,736.2 1712.8,736.2 1714.5,736.1 C1716.2,736.1 1717.8,736.0 1719.5,735.7 C1721.2,735.5 1722.8,735.2 1724.5,734.8 C1726.2,734.5 1727.8,734.0 1729.5,733.5 C1731.2,732.9 1732.8,732.3 1734.5,731.7 C1736.2,731.0 1737.9,730.3 1739.5,729.5 C1741.2,728.7 1742.9,727.9 1744.5,727.0 C1746.2,726.2 1747.9,725.2 1749.5,724.3 C1751.2,723.3 1752.9,722.3 1754.6,721.3 C1756.2,720.3 1757.9,719.3 1759.6,718.2 C1761.2,717.2 1762.9,716.1 1764.6,715.0 C1766.2,714.0 1767.9,712.9 1769.6,711.8 C1771.3,710.7 1772.9,709.6 1774.6,708.6 C1776.3,707.5 1777.9,706.4 1779.6,705.4 C1781.3,704.3 1782.9,703.3 1784.6,702.3 C1786.3,701.3 1788.0,700.3 1789.6,699.4 C1791.3,698.4 1793.0,697.5 1794.6,696.6 C1796.3,695.8 1798.0,694.9 1799.6,694.1 C1801.3,693.3 1803.0,692.6 1804.6,691.9 C1806.3,691.2 1808.0,690.6 1809.7,690.0 C1811.3,689.4 1813.0,688.9 1814.7,688.4 C1816.3,688.0 1818.0,687.6 1819.7,687.2 C1821.3,686.9 1823.0,686.6 1824.7,686.4 C1826.4,686.1 1828.0,685.9 1829.7,685.8 C1831.4,685.7 1833.0,685.6 1834.7,685.6 C1836.4,685.5 1838.0,685.6 1839.7,685.6 C1841.4,685.7 1843.1,685.8 1844.7,686.0 C1846.4,686.1 1848.1,686.3 1849.7,686.6 C1851.4,686.8 1853.1,687.1 1854.7,687.4 C1856.4,687.8 1858.1,688.1 1859.7,688.5 C1861.4,688.9 1863.1,689.4 1864.8,689.8 C1866.4,690.3 1868.1,690.8 1869.8,691.3 C1871.4,691.8 1873.1,692.3 1874.8,692.9 C1876.4,693.4 1878.1,693.9 1879.8,694.5 C1881.5,695.0 1883.1,695.6 1884.8,696.1 C1886.5,696.6 1888.1,697.2 1889.8,697.6 C1891.5,698.1 1893.1,698.6 1894.8,699.1 C1896.5,699.5 1898.2,699.9 1899.8,700.3 C1901.5,700.7 1903.2,701.0 1904.8,701.3 C1906.5,701.6 1908.2,701.8 1909.8,702.1 C1911.5,702.3 1913.2,702.4 1914.9,702.6 C1916.5,702.7 1918.2,702.8 1919.9,702.9 C1921.5,702.9 1923.2,702.9 1924.9,702.9 C1926.5,702.9 1928.2,702.8 1929.9,702.8 C1931.5,702.7 1933.2,702.5 1934.9,702.4 C1936.6,702.2 1938.2,702.0 1939.9,701.8 C1941.6,701.5 1943.2,701.3 1944.9,701.0 C1946.6,700.7 1948.2,700.3 1949.9,700.0 C1951.6,699.6 1953.3,699.2 1954.9,698.8 C1956.6,698.3 1958.3,697.9 1959.9,697.4 C1961.6,697.0 1963.3,696.5 1964.9,696.1 C1966.6,695.6 1968.3,695.2 1970.0,694.8 C1971.6,694.4 1973.3,694.0 1975.0,693.6 C1976.6,693.3 1978.3,693.0 1980.0,692.7 C1981.6,692.4 1983.3,692.2 1985.0,692.1 C1986.7,691.9 1988.3,691.8 1990.0,691.9 C1991.7,691.9 1994.2,692.1 1995.0,692.1" fill="none" stroke="#FC5A1E" stroke-width="3.8" clip-path="url(#cc1)"/>
<circle cx="1293.2" cy="816.8" r="3" fill="none" stroke="#FFFFFF" stroke-width="1.3"/>
<circle cx="1401.2" cy="691.5" r="3" fill="none" stroke="#FFFFFF" stroke-width="1.3"/>
<circle cx="1507.3" cy="693.8" r="3" fill="none" stroke="#FFFFFF" stroke-width="1.3"/>
<circle cx="1614.1" cy="761" r="3" fill="none" stroke="#FFFFFF" stroke-width="1.3"/>
<circle cx="1715.2" cy="786.3" r="3" fill="none" stroke="#FFFFFF" stroke-width="1.3"/>
<circle cx="1827.1" cy="755.2" r="3" fill="none" stroke="#FFFFFF" stroke-width="1.3"/>
<circle cx="1933.6" cy="798.1" r="3" fill="none" stroke="#FFFFFF" stroke-width="1.3"/>
<defs><clipPath id="cc2"><rect x="398.1" y="0" width="748.9" height="1240"/></clipPath></defs>
<path d="M398.4,1224.9 C399.2,1224.3 401.7,1222.4 403.4,1221.1 C405.1,1219.9 406.8,1218.5 408.4,1217.2 C410.1,1215.9 411.8,1214.5 413.5,1213.3 C415.1,1212.0 416.8,1210.8 418.5,1209.7 C420.2,1208.6 421.8,1207.5 423.5,1206.7 C425.2,1205.8 426.9,1205.1 428.5,1204.5 C430.2,1203.9 431.9,1203.5 433.6,1203.2 C435.2,1202.8 436.9,1202.6 438.6,1202.4 C440.3,1202.2 441.9,1202.1 443.6,1201.9 C445.3,1201.7 447.0,1201.5 448.6,1201.3 C450.3,1201.0 452.0,1200.8 453.7,1200.4 C455.3,1200.1 457.0,1199.7 458.7,1199.2 C460.4,1198.8 462.0,1198.3 463.7,1197.8 C465.4,1197.3 467.1,1196.7 468.7,1196.1 C470.4,1195.5 472.1,1194.9 473.8,1194.2 C475.4,1193.6 477.1,1192.9 478.8,1192.2 C480.5,1191.5 482.1,1190.8 483.8,1190.0 C485.5,1189.3 487.2,1188.6 488.8,1187.8 C490.5,1187.1 492.2,1186.3 493.9,1185.5 C495.5,1184.8 497.2,1184.0 498.9,1183.2 C500.6,1182.5 502.2,1181.7 503.9,1181.0 C505.6,1180.2 507.3,1179.5 508.9,1178.7 C510.6,1178.0 512.3,1177.3 514.0,1176.6 C515.6,1175.9 517.3,1175.2 519.0,1174.5 C520.7,1173.8 522.3,1173.1 524.0,1172.4 C525.7,1171.8 527.4,1171.1 529.0,1170.5 C530.7,1169.9 532.4,1169.3 534.1,1168.7 C535.7,1168.1 537.4,1167.6 539.1,1167.1 C540.8,1166.5 542.4,1166.0 544.1,1165.5 C545.8,1165.1 547.5,1164.6 549.1,1164.2 C550.8,1163.8 552.5,1163.4 554.1,1163.0 C555.8,1162.7 557.5,1162.3 559.2,1162.0 C560.8,1161.7 562.5,1161.5 564.2,1161.2 C565.9,1161.0 567.5,1160.8 569.2,1160.6 C570.9,1160.4 572.6,1160.3 574.2,1160.1 C575.9,1160.0 577.6,1159.9 579.3,1159.8 C580.9,1159.8 582.6,1159.7 584.3,1159.7 C586.0,1159.7 587.6,1159.7 589.3,1159.8 C591.0,1159.8 592.7,1159.9 594.3,1160.0 C596.0,1160.1 597.7,1160.2 599.4,1160.3 C601.0,1160.5 602.7,1160.6 604.4,1160.8 C606.1,1160.9 607.7,1161.1 609.4,1161.3 C611.1,1161.4 612.8,1161.6 614.4,1161.8 C616.1,1162.0 617.8,1162.2 619.5,1162.3 C621.1,1162.5 622.8,1162.7 624.5,1162.8 C626.2,1163.0 627.8,1163.2 629.5,1163.3 C631.2,1163.4 632.9,1163.6 634.5,1163.7 C636.2,1163.8 637.9,1163.8 639.6,1163.9 C641.2,1164.0 642.9,1164.0 644.6,1164.1 C646.3,1164.1 647.9,1164.1 649.6,1164.1 C651.3,1164.2 653.0,1164.2 654.6,1164.2 C656.3,1164.2 658.0,1164.2 659.7,1164.2 C661.3,1164.3 663.0,1164.3 664.7,1164.3 C666.4,1164.3 668.0,1164.4 669.7,1164.5 C671.4,1164.5 673.1,1164.6 674.7,1164.7 C676.4,1164.8 678.1,1164.9 679.8,1165.1 C681.4,1165.2 683.1,1165.4 684.8,1165.6 C686.5,1165.8 688.1,1166.1 689.8,1166.4 C691.5,1166.6 693.2,1167.0 694.8,1167.3 C696.5,1167.6 698.2,1168.0 699.8,1168.4 C701.5,1168.8 703.2,1169.2 704.9,1169.7 C706.5,1170.1 708.2,1170.6 709.9,1171.0 C711.6,1171.5 713.2,1172.0 714.9,1172.5 C716.6,1173.0 718.3,1173.5 719.9,1174.1 C721.6,1174.6 723.3,1175.1 725.0,1175.7 C726.6,1176.2 728.3,1176.7 730.0,1177.3 C731.7,1177.8 733.3,1178.4 735.0,1178.9 C736.7,1179.5 738.4,1180.0 740.0,1180.6 C741.7,1181.1 743.4,1181.6 745.1,1182.2 C746.7,1182.7 748.4,1183.2 750.1,1183.7 C751.8,1184.2 753.4,1184.7 755.1,1185.2 C756.8,1185.7 758.5,1186.2 760.1,1186.6 C761.8,1187.1 763.5,1187.6 765.2,1188.0 C766.8,1188.4 768.5,1188.8 770.2,1189.2 C771.9,1189.6 773.5,1190.0 775.2,1190.4 C776.9,1190.7 778.6,1191.1 780.2,1191.4 C781.9,1191.7 783.6,1192.1 785.3,1192.4 C786.9,1192.7 788.6,1193.0 790.3,1193.2 C792.0,1193.5 793.6,1193.8 795.3,1194.1 C797.0,1194.3 798.7,1194.6 800.3,1194.8 C802.0,1195.1 803.7,1195.3 805.4,1195.6 C807.0,1195.8 808.7,1196.1 810.4,1196.3 C812.1,1196.6 813.7,1196.8 815.4,1197.0 C817.1,1197.2 818.8,1197.4 820.4,1197.6 C822.1,1197.8 823.8,1198.0 825.5,1198.2 C827.1,1198.4 828.8,1198.5 830.5,1198.6 C832.2,1198.8 833.8,1198.9 835.5,1199.0 C837.2,1199.1 838.9,1199.2 840.5,1199.3 C842.2,1199.4 843.9,1199.5 845.6,1199.6 C847.2,1199.6 848.9,1199.7 850.6,1199.8 C852.2,1199.9 853.9,1200.0 855.6,1200.1 C857.3,1200.2 858.9,1200.3 860.6,1200.4 C862.3,1200.5 864.0,1200.6 865.6,1200.7 C867.3,1200.7 869.0,1200.8 870.7,1200.7 C872.3,1200.7 874.0,1200.7 875.7,1200.5 C877.4,1200.4 879.0,1200.2 880.7,1199.9 C882.4,1199.7 884.1,1199.4 885.7,1199.0 C887.4,1198.6 889.1,1198.2 890.8,1197.7 C892.4,1197.3 894.1,1196.8 895.8,1196.2 C897.5,1195.7 899.1,1195.1 900.8,1194.5 C902.5,1193.9 904.2,1193.2 905.8,1192.6 C907.5,1191.9 909.2,1191.2 910.9,1190.5 C912.5,1189.9 914.2,1189.1 915.9,1188.4 C917.6,1187.7 919.2,1187.0 920.9,1186.3 C922.6,1185.6 924.3,1184.9 925.9,1184.2 C927.6,1183.5 929.3,1182.8 931.0,1182.1 C932.6,1181.5 934.3,1180.8 936.0,1180.2 C937.7,1179.5 939.3,1178.9 941.0,1178.3 C942.7,1177.7 944.4,1177.1 946.0,1176.6 C947.7,1176.0 949.4,1175.5 951.1,1175.0 C952.7,1174.5 954.4,1174.0 956.1,1173.6 C957.8,1173.2 959.4,1172.8 961.1,1172.4 C962.8,1172.0 964.5,1171.7 966.1,1171.4 C967.8,1171.1 969.5,1170.9 971.2,1170.7 C972.8,1170.4 974.5,1170.3 976.2,1170.2 C977.9,1170.0 979.5,1170.0 981.2,1169.9 C982.9,1169.9 984.6,1169.9 986.2,1170.0 C987.9,1170.0 989.6,1170.1 991.3,1170.3 C992.9,1170.5 994.6,1170.7 996.3,1170.9 C997.9,1171.2 999.6,1171.5 1001.3,1171.9 C1003.0,1172.3 1004.6,1172.7 1006.3,1173.2 C1008.0,1173.7 1009.7,1174.2 1011.3,1174.8 C1013.0,1175.4 1014.7,1176.1 1016.4,1176.8 C1018.0,1177.6 1019.7,1178.4 1021.4,1179.2 C1023.1,1180.0 1024.7,1180.9 1026.4,1181.8 C1028.1,1182.8 1029.8,1183.7 1031.4,1184.7 C1033.1,1185.7 1034.8,1186.8 1036.5,1187.8 C1038.1,1188.8 1039.8,1189.9 1041.5,1190.9 C1043.2,1192.0 1044.8,1193.1 1046.5,1194.1 C1048.2,1195.2 1049.9,1196.3 1051.5,1197.3 C1053.2,1198.3 1054.9,1199.4 1056.6,1200.4 C1058.2,1201.4 1059.9,1202.3 1061.6,1203.3 C1063.3,1204.2 1064.9,1205.1 1066.6,1205.9 C1068.3,1206.8 1070.0,1207.6 1071.6,1208.3 C1073.3,1209.0 1075.0,1209.7 1076.7,1210.3 C1078.3,1210.8 1080.0,1211.3 1081.7,1211.7 C1083.4,1212.1 1085.0,1212.4 1086.7,1212.6 C1088.4,1212.8 1090.1,1212.9 1091.7,1212.8 C1093.4,1212.8 1095.1,1212.6 1096.8,1212.3 C1098.4,1211.9 1100.1,1211.5 1101.8,1210.8 C1103.5,1210.2 1105.1,1209.4 1106.8,1208.4 C1108.5,1207.4 1110.2,1206.3 1111.8,1204.9 C1113.5,1203.6 1115.2,1202.0 1116.9,1200.2 C1118.5,1198.4 1120.2,1196.4 1121.9,1194.1 C1123.6,1191.9 1125.2,1189.2 1126.9,1186.5 C1128.6,1183.8 1130.3,1180.6 1131.9,1177.8 C1133.6,1175.0 1135.3,1172.0 1137.0,1169.8 C1138.6,1167.7 1140.3,1165.6 1142.0,1164.7 C1143.7,1163.7 1146.2,1164.3 1147.0,1164.3 L1147,1240 L398.1,1240 Z" fill="#F9F5F2"/>
<path d="M394.4,1227.5 C395.2,1227.0 397.7,1225.4 399.4,1224.2 C401.1,1223.0 402.8,1221.7 404.4,1220.4 C406.1,1219.1 407.8,1217.7 409.4,1216.4 C411.1,1215.1 412.8,1213.8 414.4,1212.5 C416.1,1211.3 417.8,1210.1 419.5,1209.0 C421.1,1208.0 422.8,1207.0 424.5,1206.2 C426.1,1205.4 427.8,1204.7 429.5,1204.2 C431.1,1203.7 432.8,1203.3 434.5,1203.0 C436.2,1202.7 437.8,1202.5 439.5,1202.3 C441.2,1202.1 442.8,1202.0 444.5,1201.8 C446.2,1201.6 447.8,1201.4 449.5,1201.2 C451.2,1200.9 452.9,1200.6 454.5,1200.2 C456.2,1199.9 457.9,1199.5 459.5,1199.0 C461.2,1198.6 462.9,1198.0 464.5,1197.5 C466.2,1197.0 467.9,1196.4 469.6,1195.8 C471.2,1195.2 472.9,1194.6 474.6,1193.9 C476.2,1193.2 477.9,1192.6 479.6,1191.9 C481.3,1191.2 482.9,1190.4 484.6,1189.7 C486.3,1189.0 487.9,1188.2 489.6,1187.5 C491.3,1186.7 492.9,1185.9 494.6,1185.2 C496.3,1184.4 498.0,1183.7 499.6,1182.9 C501.3,1182.2 503.0,1181.4 504.6,1180.7 C506.3,1179.9 508.0,1179.2 509.6,1178.4 C511.3,1177.7 513.0,1177.0 514.7,1176.3 C516.3,1175.6 518.0,1174.9 519.7,1174.2 C521.3,1173.5 523.0,1172.8 524.7,1172.2 C526.3,1171.5 528.0,1170.9 529.7,1170.3 C531.4,1169.7 533.0,1169.1 534.7,1168.5 C536.4,1167.9 538.0,1167.4 539.7,1166.9 C541.4,1166.3 543.0,1165.8 544.7,1165.4 C546.4,1164.9 548.1,1164.5 549.7,1164.1 C551.4,1163.6 553.1,1163.3 554.7,1162.9 C556.4,1162.6 558.1,1162.2 559.7,1161.9 C561.4,1161.7 563.1,1161.4 564.8,1161.2 C566.4,1160.9 568.1,1160.7 569.8,1160.5 C571.4,1160.4 573.1,1160.2 574.8,1160.1 C576.5,1160.0 578.1,1159.9 579.8,1159.8 C581.5,1159.8 583.1,1159.7 584.8,1159.7 C586.5,1159.7 588.1,1159.7 589.8,1159.8 C591.5,1159.8 593.2,1159.9 594.8,1160.0 C596.5,1160.1 598.2,1160.2 599.8,1160.4 C601.5,1160.5 603.2,1160.7 604.8,1160.8 C606.5,1161.0 608.2,1161.1 609.9,1161.3 C611.5,1161.5 613.2,1161.7 614.9,1161.8 C616.5,1162.0 618.2,1162.2 619.9,1162.4 C621.5,1162.5 623.2,1162.7 624.9,1162.9 C626.6,1163.0 628.2,1163.2 629.9,1163.3 C631.6,1163.5 633.2,1163.6 634.9,1163.7 C636.6,1163.8 638.2,1163.9 639.9,1163.9 C641.6,1164.0 643.3,1164.0 644.9,1164.1 C646.6,1164.1 648.3,1164.1 649.9,1164.1 C651.6,1164.2 653.3,1164.2 655.0,1164.2 C656.6,1164.2 658.3,1164.2 660.0,1164.2 C661.6,1164.3 663.3,1164.3 665.0,1164.3 C666.6,1164.4 668.3,1164.4 670.0,1164.5 C671.7,1164.5 673.3,1164.6 675.0,1164.7 C676.7,1164.8 678.3,1164.9 680.0,1165.1 C681.7,1165.3 683.3,1165.4 685.0,1165.7 C686.7,1165.9 688.4,1166.1 690.0,1166.4 C691.7,1166.7 693.4,1167.0 695.0,1167.3 C696.7,1167.7 698.4,1168.1 700.0,1168.5 C701.7,1168.8 703.4,1169.3 705.1,1169.7 C706.7,1170.1 708.4,1170.6 710.1,1171.1 C711.7,1171.6 713.4,1172.0 715.1,1172.6 C716.7,1173.1 718.4,1173.6 720.1,1174.1 C721.8,1174.6 723.4,1175.2 725.1,1175.7 C726.8,1176.2 728.4,1176.8 730.1,1177.3 C731.8,1177.9 733.5,1178.4 735.1,1179.0 C736.8,1179.5 738.5,1180.1 740.1,1180.6 C741.8,1181.1 743.5,1181.7 745.1,1182.2 C746.8,1182.7 748.5,1183.2 750.2,1183.7 C751.8,1184.2 753.5,1184.7 755.2,1185.2 C756.8,1185.7 758.5,1186.2 760.2,1186.6 C761.8,1187.1 763.5,1187.6 765.2,1188.0 C766.9,1188.4 768.5,1188.8 770.2,1189.2 C771.9,1189.6 773.5,1190.0 775.2,1190.4 C776.9,1190.7 778.5,1191.1 780.2,1191.4 C781.9,1191.7 783.6,1192.0 785.2,1192.4 C786.9,1192.7 788.6,1192.9 790.2,1193.2 C791.9,1193.5 793.6,1193.8 795.2,1194.1 C796.9,1194.3 798.6,1194.6 800.3,1194.8 C801.9,1195.1 803.6,1195.3 805.3,1195.6 C806.9,1195.8 808.6,1196.1 810.3,1196.3 C811.9,1196.5 813.6,1196.8 815.3,1197.0 C817.0,1197.2 818.6,1197.4 820.3,1197.6 C822.0,1197.8 823.6,1198.0 825.3,1198.2 C827.0,1198.3 828.7,1198.5 830.3,1198.6 C832.0,1198.8 833.7,1198.9 835.3,1199.0 C837.0,1199.1 838.7,1199.2 840.3,1199.3 C842.0,1199.4 843.7,1199.5 845.4,1199.5 C847.0,1199.6 848.7,1199.7 850.4,1199.8 C852.0,1199.9 853.7,1200.0 855.4,1200.1 C857.0,1200.2 858.7,1200.3 860.4,1200.4 C862.1,1200.5 863.7,1200.6 865.4,1200.6 C867.1,1200.7 868.7,1200.7 870.4,1200.7 C872.1,1200.7 873.7,1200.7 875.4,1200.5 C877.1,1200.4 878.8,1200.2 880.4,1200.0 C882.1,1199.7 883.8,1199.4 885.4,1199.1 C887.1,1198.7 888.8,1198.3 890.4,1197.8 C892.1,1197.4 893.8,1196.9 895.5,1196.3 C897.1,1195.8 898.8,1195.2 900.5,1194.6 C902.1,1194.0 903.8,1193.4 905.5,1192.7 C907.2,1192.1 908.8,1191.4 910.5,1190.7 C912.2,1190.0 913.8,1189.3 915.5,1188.6 C917.2,1187.9 918.8,1187.2 920.5,1186.5 C922.2,1185.8 923.9,1185.0 925.5,1184.4 C927.2,1183.7 928.9,1183.0 930.5,1182.3 C932.2,1181.6 933.9,1181.0 935.5,1180.3 C937.2,1179.7 938.9,1179.1 940.6,1178.5 C942.2,1177.9 943.9,1177.3 945.6,1176.7 C947.2,1176.2 948.9,1175.6 950.6,1175.1 C952.2,1174.6 953.9,1174.2 955.6,1173.7 C957.3,1173.3 958.9,1172.9 960.6,1172.5 C962.3,1172.1 963.9,1171.8 965.6,1171.5 C967.3,1171.2 968.9,1170.9 970.6,1170.7 C972.3,1170.5 974.0,1170.3 975.6,1170.2 C977.3,1170.1 979.0,1170.0 980.6,1169.9 C982.3,1169.9 984.0,1169.9 985.7,1169.9 C987.3,1170.0 989.0,1170.1 990.7,1170.2 C992.3,1170.4 994.0,1170.6 995.7,1170.8 C997.3,1171.1 999.0,1171.4 1000.7,1171.8 C1002.4,1172.1 1004.0,1172.5 1005.7,1173.0 C1007.4,1173.5 1009.0,1174.0 1010.7,1174.6 C1012.4,1175.2 1014.0,1175.8 1015.7,1176.5 C1017.4,1177.3 1019.1,1178.0 1020.7,1178.9 C1022.4,1179.7 1024.1,1180.6 1025.7,1181.5 C1027.4,1182.4 1029.1,1183.3 1030.7,1184.3 C1032.4,1185.3 1034.1,1186.3 1035.8,1187.3 C1037.4,1188.4 1039.1,1189.4 1040.8,1190.5 C1042.4,1191.5 1044.1,1192.6 1045.8,1193.7 C1047.4,1194.7 1049.1,1195.8 1050.8,1196.8 C1052.5,1197.9 1054.1,1198.9 1055.8,1199.9 C1057.5,1200.9 1059.1,1201.9 1060.8,1202.8 C1062.5,1203.8 1064.1,1204.7 1065.8,1205.5 C1067.5,1206.4 1069.2,1207.2 1070.8,1207.9 C1072.5,1208.7 1074.2,1209.4 1075.8,1210.0 C1077.5,1210.6 1079.2,1211.1 1080.9,1211.5 C1082.5,1212.0 1084.2,1212.3 1085.9,1212.5 C1087.5,1212.7 1089.2,1212.9 1090.9,1212.8 C1092.5,1212.8 1094.2,1212.7 1095.9,1212.4 C1097.6,1212.1 1099.2,1211.7 1100.9,1211.1 C1102.6,1210.6 1104.2,1209.8 1105.9,1208.9 C1107.6,1208.0 1109.2,1206.9 1110.9,1205.7 C1112.6,1204.4 1114.3,1202.9 1115.9,1201.2 C1117.6,1199.5 1119.3,1197.6 1120.9,1195.4 C1122.6,1193.2 1124.3,1190.7 1125.9,1188.1 C1127.6,1185.4 1129.3,1182.3 1131.0,1179.5 C1132.6,1176.7 1134.3,1173.6 1136.0,1171.3 C1137.6,1168.9 1139.3,1166.6 1141.0,1165.4 C1142.6,1164.1 1144.3,1163.3 1146.0,1163.9 C1147.7,1164.4 1150.2,1167.9 1151.0,1168.8" fill="none" stroke="#FC5A1E" stroke-width="3.8" clip-path="url(#cc2)"/>
<circle cx="448.6" cy="1201" r="3.1" fill="#FC5A1E" stroke="#FFFFFF" stroke-width="1.6"/>
<circle cx="556.6" cy="1162.6" r="3.1" fill="#FC5A1E" stroke="#FFFFFF" stroke-width="1.6"/>
<circle cx="663.4" cy="1164.6" r="3.1" fill="#FC5A1E" stroke="#FFFFFF" stroke-width="1.6"/>
<circle cx="770.5" cy="1189.5" r="3.1" fill="#FC5A1E" stroke="#FFFFFF" stroke-width="1.6"/>
<circle cx="870.8" cy="1200.6" r="3.1" fill="#FC5A1E" stroke="#FFFFFF" stroke-width="1.6"/>
<circle cx="982.8" cy="1169.9" r="3.1" fill="#FC5A1E" stroke="#FFFFFF" stroke-width="1.6"/>
<circle cx="1089.2" cy="1212.7" r="3.1" fill="#FC5A1E" stroke="#FFFFFF" stroke-width="1.6"/>
<defs><clipPath id="cc3"><rect x="1242.3" y="0" width="748.5" height="1240"/></clipPath></defs>
<path d="M1242.4,1213.3 C1243.2,1213.6 1245.7,1214.4 1247.4,1215.0 C1249.1,1215.6 1250.8,1216.3 1252.4,1216.9 C1254.1,1217.6 1255.8,1218.3 1257.5,1218.9 C1259.1,1219.6 1260.8,1220.3 1262.5,1221.0 C1264.2,1221.6 1265.8,1222.3 1267.5,1222.9 C1269.2,1223.5 1270.9,1224.0 1272.5,1224.5 C1274.2,1225.0 1275.9,1225.5 1277.6,1225.8 C1279.2,1226.2 1280.9,1226.6 1282.6,1226.8 C1284.3,1227.1 1285.9,1227.3 1287.6,1227.4 C1289.3,1227.6 1291.0,1227.7 1292.6,1227.7 C1294.3,1227.7 1296.0,1227.7 1297.7,1227.5 C1299.3,1227.4 1301.0,1227.2 1302.7,1226.9 C1304.3,1226.5 1306.0,1226.2 1307.7,1225.6 C1309.4,1225.1 1311.0,1224.5 1312.7,1223.7 C1314.4,1222.9 1316.1,1222.0 1317.7,1221.0 C1319.4,1219.9 1321.1,1218.7 1322.8,1217.4 C1324.4,1216.0 1326.1,1214.5 1327.8,1212.9 C1329.5,1211.4 1331.1,1209.6 1332.8,1207.9 C1334.5,1206.2 1336.2,1204.3 1337.8,1202.6 C1339.5,1200.8 1341.2,1199.0 1342.9,1197.4 C1344.5,1195.7 1346.2,1194.0 1347.9,1192.4 C1349.6,1190.8 1351.2,1189.3 1352.9,1187.8 C1354.6,1186.3 1356.3,1184.8 1357.9,1183.4 C1359.6,1182.0 1361.3,1180.7 1362.9,1179.4 C1364.6,1178.1 1366.3,1176.8 1368.0,1175.6 C1369.6,1174.4 1371.3,1173.2 1373.0,1172.0 C1374.7,1170.9 1376.3,1169.8 1378.0,1168.8 C1379.7,1167.7 1381.4,1166.7 1383.0,1165.8 C1384.7,1164.8 1386.4,1163.9 1388.1,1163.0 C1389.7,1162.1 1391.4,1161.3 1393.1,1160.5 C1394.8,1159.7 1396.4,1158.9 1398.1,1158.2 C1399.8,1157.5 1401.5,1156.8 1403.1,1156.2 C1404.8,1155.5 1406.5,1154.9 1408.2,1154.3 C1409.8,1153.8 1411.5,1153.2 1413.2,1152.7 C1414.9,1152.2 1416.5,1151.8 1418.2,1151.3 C1419.9,1150.9 1421.5,1150.5 1423.2,1150.2 C1424.9,1149.8 1426.6,1149.5 1428.2,1149.2 C1429.9,1148.9 1431.6,1148.6 1433.3,1148.4 C1434.9,1148.1 1436.6,1147.9 1438.3,1147.8 C1440.0,1147.6 1441.6,1147.5 1443.3,1147.3 C1445.0,1147.2 1446.7,1147.1 1448.3,1147.1 C1450.0,1147.0 1451.7,1147.0 1453.4,1147.0 C1455.0,1147.0 1456.7,1147.0 1458.4,1147.0 C1460.1,1147.1 1461.7,1147.2 1463.4,1147.2 C1465.1,1147.3 1466.8,1147.4 1468.4,1147.6 C1470.1,1147.7 1471.8,1147.9 1473.4,1148.0 C1475.1,1148.2 1476.8,1148.4 1478.5,1148.6 C1480.1,1148.8 1481.8,1149.1 1483.5,1149.3 C1485.2,1149.6 1486.8,1149.8 1488.5,1150.1 C1490.2,1150.4 1491.9,1150.7 1493.5,1151.0 C1495.2,1151.3 1496.9,1151.6 1498.6,1152.0 C1500.2,1152.3 1501.9,1152.7 1503.6,1153.0 C1505.3,1153.4 1506.9,1153.8 1508.6,1154.1 C1510.3,1154.5 1512.0,1154.9 1513.6,1155.3 C1515.3,1155.7 1517.0,1156.1 1518.7,1156.6 C1520.3,1157.0 1522.0,1157.4 1523.7,1157.8 C1525.4,1158.3 1527.0,1158.7 1528.7,1159.1 C1530.4,1159.6 1532.0,1160.0 1533.7,1160.5 C1535.4,1160.9 1537.1,1161.4 1538.7,1161.8 C1540.4,1162.3 1542.1,1162.7 1543.8,1163.2 C1545.4,1163.7 1547.1,1164.1 1548.8,1164.6 C1550.5,1165.1 1552.1,1165.5 1553.8,1166.0 C1555.5,1166.5 1557.2,1166.9 1558.8,1167.4 C1560.5,1167.9 1562.2,1168.3 1563.9,1168.8 C1565.5,1169.2 1567.2,1169.7 1568.9,1170.2 C1570.6,1170.6 1572.2,1171.1 1573.9,1171.5 C1575.6,1172.0 1577.3,1172.4 1578.9,1172.8 C1580.6,1173.3 1582.3,1173.7 1584.0,1174.1 C1585.6,1174.6 1587.3,1175.0 1589.0,1175.4 C1590.6,1175.8 1592.3,1176.2 1594.0,1176.6 C1595.7,1177.0 1597.3,1177.4 1599.0,1177.8 C1600.7,1178.2 1602.4,1178.6 1604.0,1178.9 C1605.7,1179.3 1607.4,1179.6 1609.1,1180.0 C1610.7,1180.3 1612.4,1180.7 1614.1,1181.0 C1615.8,1181.3 1617.4,1181.6 1619.1,1181.9 C1620.8,1182.2 1622.5,1182.5 1624.1,1182.7 C1625.8,1183.0 1627.5,1183.3 1629.2,1183.5 C1630.8,1183.8 1632.5,1184.0 1634.2,1184.3 C1635.9,1184.5 1637.5,1184.7 1639.2,1185.0 C1640.9,1185.2 1642.6,1185.4 1644.2,1185.6 C1645.9,1185.8 1647.6,1186.1 1649.2,1186.3 C1650.9,1186.5 1652.6,1186.7 1654.3,1186.9 C1655.9,1187.1 1657.6,1187.3 1659.3,1187.4 C1661.0,1187.6 1662.6,1187.8 1664.3,1188.0 C1666.0,1188.2 1667.7,1188.4 1669.3,1188.6 C1671.0,1188.8 1672.7,1188.9 1674.4,1189.1 C1676.0,1189.3 1677.7,1189.4 1679.4,1189.6 C1681.1,1189.7 1682.7,1189.9 1684.4,1190.0 C1686.1,1190.2 1687.8,1190.3 1689.4,1190.4 C1691.1,1190.5 1692.8,1190.6 1694.5,1190.7 C1696.1,1190.8 1697.8,1190.8 1699.5,1190.9 C1701.2,1190.9 1702.8,1191.0 1704.5,1191.0 C1706.2,1191.0 1707.8,1191.0 1709.5,1191.0 C1711.2,1191.0 1712.9,1190.9 1714.5,1190.9 C1716.2,1190.8 1717.9,1190.7 1719.6,1190.6 C1721.2,1190.5 1722.9,1190.4 1724.6,1190.2 C1726.3,1190.0 1727.9,1189.9 1729.6,1189.6 C1731.3,1189.4 1733.0,1189.1 1734.6,1188.8 C1736.3,1188.6 1738.0,1188.2 1739.7,1187.9 C1741.3,1187.5 1743.0,1187.1 1744.7,1186.6 C1746.4,1186.2 1748.0,1185.7 1749.7,1185.1 C1751.4,1184.6 1753.1,1184.0 1754.7,1183.4 C1756.4,1182.8 1758.1,1182.1 1759.8,1181.4 C1761.4,1180.8 1763.1,1180.1 1764.8,1179.4 C1766.4,1178.6 1768.1,1177.9 1769.8,1177.2 C1771.5,1176.5 1773.1,1175.8 1774.8,1175.1 C1776.5,1174.4 1778.2,1173.7 1779.8,1173.1 C1781.5,1172.4 1783.2,1171.8 1784.9,1171.2 C1786.5,1170.6 1788.2,1170.1 1789.9,1169.6 C1791.6,1169.0 1793.2,1168.6 1794.9,1168.2 C1796.6,1167.8 1798.3,1167.4 1799.9,1167.0 C1801.6,1166.7 1803.3,1166.4 1805.0,1166.1 C1806.6,1165.9 1808.3,1165.6 1810.0,1165.4 C1811.7,1165.2 1813.3,1165.0 1815.0,1164.8 C1816.7,1164.7 1818.3,1164.5 1820.0,1164.4 C1821.7,1164.2 1823.4,1164.1 1825.0,1164.0 C1826.7,1163.9 1828.4,1163.8 1830.1,1163.6 C1831.7,1163.5 1833.4,1163.4 1835.1,1163.3 C1836.8,1163.2 1838.4,1163.1 1840.1,1163.0 C1841.8,1162.9 1843.5,1162.7 1845.1,1162.6 C1846.8,1162.4 1848.5,1162.3 1850.2,1162.1 C1851.8,1161.9 1853.5,1161.7 1855.2,1161.5 C1856.9,1161.2 1858.5,1161.0 1860.2,1160.7 C1861.9,1160.4 1863.6,1160.1 1865.2,1159.8 C1866.9,1159.4 1868.6,1159.1 1870.3,1158.7 C1871.9,1158.3 1873.6,1157.9 1875.3,1157.5 C1876.9,1157.1 1878.6,1156.7 1880.3,1156.2 C1882.0,1155.8 1883.6,1155.4 1885.3,1155.0 C1887.0,1154.5 1888.7,1154.1 1890.3,1153.7 C1892.0,1153.3 1893.7,1152.9 1895.4,1152.5 C1897.0,1152.2 1898.7,1151.8 1900.4,1151.5 C1902.1,1151.2 1903.7,1150.8 1905.4,1150.6 C1907.1,1150.3 1908.8,1150.0 1910.4,1149.8 C1912.1,1149.6 1913.8,1149.4 1915.5,1149.2 C1917.1,1149.0 1918.8,1148.8 1920.5,1148.7 C1922.2,1148.6 1923.8,1148.5 1925.5,1148.4 C1927.2,1148.3 1928.9,1148.3 1930.5,1148.3 C1932.2,1148.2 1933.9,1148.2 1935.5,1148.3 C1937.2,1148.3 1938.9,1148.3 1940.6,1148.4 C1942.2,1148.5 1943.9,1148.6 1945.6,1148.8 C1947.3,1148.9 1948.9,1149.1 1950.6,1149.3 C1952.3,1149.4 1954.0,1149.7 1955.6,1149.9 C1957.3,1150.1 1959.0,1150.4 1960.7,1150.7 C1962.3,1150.9 1964.0,1151.2 1965.7,1151.5 C1967.4,1151.7 1969.0,1152.0 1970.7,1152.3 C1972.4,1152.6 1974.1,1152.9 1975.7,1153.1 C1977.4,1153.4 1979.1,1153.6 1980.8,1153.8 C1982.4,1154.1 1984.1,1154.3 1985.8,1154.4 C1987.5,1154.6 1990.0,1154.8 1990.8,1154.9 L1990.8,1240 L1242.3,1240 Z" fill="#F9F5F2"/>
<path d="M1238.4,1212.3 C1239.2,1212.5 1241.7,1213.1 1243.4,1213.6 C1245.1,1214.2 1246.7,1214.7 1248.4,1215.4 C1250.1,1216.0 1251.8,1216.6 1253.4,1217.3 C1255.1,1218.0 1256.8,1218.7 1258.4,1219.3 C1260.1,1220.0 1261.8,1220.7 1263.4,1221.4 C1265.1,1222.0 1266.8,1222.6 1268.5,1223.2 C1270.1,1223.8 1271.8,1224.3 1273.5,1224.8 C1275.1,1225.3 1276.8,1225.7 1278.5,1226.1 C1280.1,1226.4 1281.8,1226.7 1283.5,1227.0 C1285.2,1227.2 1286.8,1227.4 1288.5,1227.5 C1290.2,1227.6 1291.8,1227.7 1293.5,1227.7 C1295.2,1227.7 1296.8,1227.6 1298.5,1227.4 C1300.2,1227.3 1301.9,1227.1 1303.5,1226.7 C1305.2,1226.4 1306.9,1225.9 1308.5,1225.3 C1310.2,1224.8 1311.9,1224.1 1313.5,1223.3 C1315.2,1222.5 1316.9,1221.5 1318.5,1220.4 C1320.2,1219.3 1321.9,1218.1 1323.6,1216.7 C1325.2,1215.3 1326.9,1213.8 1328.6,1212.2 C1330.2,1210.6 1331.9,1208.8 1333.6,1207.1 C1335.2,1205.4 1336.9,1203.5 1338.6,1201.8 C1340.3,1200.0 1341.9,1198.3 1343.6,1196.6 C1345.3,1194.9 1346.9,1193.3 1348.6,1191.7 C1350.3,1190.2 1351.9,1188.6 1353.6,1187.2 C1355.3,1185.7 1357.0,1184.2 1358.6,1182.9 C1360.3,1181.5 1362.0,1180.1 1363.6,1178.8 C1365.3,1177.5 1367.0,1176.3 1368.6,1175.1 C1370.3,1173.9 1372.0,1172.7 1373.7,1171.6 C1375.3,1170.5 1377.0,1169.4 1378.7,1168.4 C1380.3,1167.4 1382.0,1166.4 1383.7,1165.4 C1385.3,1164.5 1387.0,1163.6 1388.7,1162.7 C1390.3,1161.8 1392.0,1161.0 1393.7,1160.2 C1395.4,1159.4 1397.0,1158.7 1398.7,1158.0 C1400.4,1157.2 1402.0,1156.6 1403.7,1155.9 C1405.4,1155.3 1407.0,1154.7 1408.7,1154.1 C1410.4,1153.6 1412.1,1153.1 1413.7,1152.6 C1415.4,1152.1 1417.1,1151.6 1418.7,1151.2 C1420.4,1150.8 1422.1,1150.4 1423.7,1150.0 C1425.4,1149.7 1427.1,1149.4 1428.8,1149.1 C1430.4,1148.8 1432.1,1148.5 1433.8,1148.3 C1435.4,1148.1 1437.1,1147.9 1438.8,1147.7 C1440.4,1147.6 1442.1,1147.4 1443.8,1147.3 C1445.4,1147.2 1447.1,1147.1 1448.8,1147.1 C1450.5,1147.0 1452.1,1147.0 1453.8,1147.0 C1455.5,1147.0 1457.1,1147.0 1458.8,1147.1 C1460.5,1147.1 1462.1,1147.2 1463.8,1147.3 C1465.5,1147.4 1467.2,1147.5 1468.8,1147.6 C1470.5,1147.7 1472.2,1147.9 1473.8,1148.1 C1475.5,1148.3 1477.2,1148.5 1478.8,1148.7 C1480.5,1148.9 1482.2,1149.1 1483.9,1149.4 C1485.5,1149.6 1487.2,1149.9 1488.9,1150.2 C1490.5,1150.5 1492.2,1150.8 1493.9,1151.1 C1495.5,1151.4 1497.2,1151.7 1498.9,1152.0 C1500.6,1152.4 1502.2,1152.7 1503.9,1153.1 C1505.6,1153.5 1507.2,1153.8 1508.9,1154.2 C1510.6,1154.6 1512.2,1155.0 1513.9,1155.4 C1515.6,1155.8 1517.2,1156.2 1518.9,1156.6 C1520.6,1157.0 1522.3,1157.5 1523.9,1157.9 C1525.6,1158.3 1527.3,1158.8 1528.9,1159.2 C1530.6,1159.6 1532.3,1160.1 1533.9,1160.5 C1535.6,1161.0 1537.3,1161.4 1539.0,1161.9 C1540.6,1162.3 1542.3,1162.8 1544.0,1163.3 C1545.6,1163.7 1547.3,1164.2 1549.0,1164.6 C1550.6,1165.1 1552.3,1165.6 1554.0,1166.0 C1555.7,1166.5 1557.3,1167.0 1559.0,1167.4 C1560.7,1167.9 1562.3,1168.4 1564.0,1168.8 C1565.7,1169.3 1567.3,1169.7 1569.0,1170.2 C1570.7,1170.6 1572.4,1171.1 1574.0,1171.5 C1575.7,1172.0 1577.4,1172.4 1579.0,1172.9 C1580.7,1173.3 1582.4,1173.7 1584.0,1174.2 C1585.7,1174.6 1587.4,1175.0 1589.0,1175.4 C1590.7,1175.8 1592.4,1176.2 1594.1,1176.6 C1595.7,1177.0 1597.4,1177.4 1599.1,1177.8 C1600.7,1178.2 1602.4,1178.6 1604.1,1178.9 C1605.7,1179.3 1607.4,1179.6 1609.1,1180.0 C1610.8,1180.3 1612.4,1180.7 1614.1,1181.0 C1615.8,1181.3 1617.4,1181.6 1619.1,1181.9 C1620.8,1182.2 1622.4,1182.5 1624.1,1182.7 C1625.8,1183.0 1627.5,1183.3 1629.1,1183.5 C1630.8,1183.8 1632.5,1184.0 1634.1,1184.3 C1635.8,1184.5 1637.5,1184.7 1639.1,1185.0 C1640.8,1185.2 1642.5,1185.4 1644.2,1185.6 C1645.8,1185.8 1647.5,1186.0 1649.2,1186.2 C1650.8,1186.5 1652.5,1186.6 1654.2,1186.8 C1655.8,1187.0 1657.5,1187.2 1659.2,1187.4 C1660.8,1187.6 1662.5,1187.8 1664.2,1188.0 C1665.9,1188.2 1667.5,1188.4 1669.2,1188.6 C1670.9,1188.7 1672.5,1188.9 1674.2,1189.1 C1675.9,1189.3 1677.5,1189.4 1679.2,1189.6 C1680.9,1189.7 1682.6,1189.9 1684.2,1190.0 C1685.9,1190.1 1687.6,1190.3 1689.2,1190.4 C1690.9,1190.5 1692.6,1190.6 1694.2,1190.7 C1695.9,1190.8 1697.6,1190.8 1699.3,1190.9 C1700.9,1190.9 1702.6,1191.0 1704.3,1191.0 C1705.9,1191.0 1707.6,1191.0 1709.3,1191.0 C1710.9,1191.0 1712.6,1190.9 1714.3,1190.9 C1716.0,1190.8 1717.6,1190.7 1719.3,1190.6 C1721.0,1190.5 1722.6,1190.4 1724.3,1190.2 C1726.0,1190.1 1727.6,1189.9 1729.3,1189.7 C1731.0,1189.4 1732.6,1189.2 1734.3,1188.9 C1736.0,1188.6 1737.7,1188.3 1739.3,1187.9 C1741.0,1187.6 1742.7,1187.2 1744.3,1186.7 C1746.0,1186.3 1747.7,1185.8 1749.3,1185.3 C1751.0,1184.7 1752.7,1184.1 1754.4,1183.5 C1756.0,1182.9 1757.7,1182.3 1759.4,1181.6 C1761.0,1180.9 1762.7,1180.2 1764.4,1179.5 C1766.0,1178.8 1767.7,1178.1 1769.4,1177.4 C1771.1,1176.7 1772.7,1176.0 1774.4,1175.3 C1776.1,1174.6 1777.7,1173.9 1779.4,1173.2 C1781.1,1172.6 1782.7,1172.0 1784.4,1171.4 C1786.1,1170.8 1787.8,1170.2 1789.4,1169.7 C1791.1,1169.2 1792.8,1168.7 1794.4,1168.3 C1796.1,1167.9 1797.8,1167.5 1799.4,1167.1 C1801.1,1166.8 1802.8,1166.5 1804.4,1166.2 C1806.1,1165.9 1807.8,1165.7 1809.5,1165.5 C1811.1,1165.3 1812.8,1165.1 1814.5,1164.9 C1816.1,1164.7 1817.8,1164.6 1819.5,1164.4 C1821.1,1164.3 1822.8,1164.1 1824.5,1164.0 C1826.2,1163.9 1827.8,1163.8 1829.5,1163.7 C1831.2,1163.6 1832.8,1163.5 1834.5,1163.4 C1836.2,1163.2 1837.8,1163.1 1839.5,1163.0 C1841.2,1162.9 1842.9,1162.8 1844.5,1162.6 C1846.2,1162.5 1847.9,1162.3 1849.5,1162.2 C1851.2,1162.0 1852.9,1161.8 1854.5,1161.6 C1856.2,1161.3 1857.9,1161.1 1859.5,1160.8 C1861.2,1160.5 1862.9,1160.2 1864.6,1159.9 C1866.2,1159.6 1867.9,1159.2 1869.6,1158.8 C1871.2,1158.5 1872.9,1158.1 1874.6,1157.7 C1876.2,1157.2 1877.9,1156.8 1879.6,1156.4 C1881.3,1156.0 1882.9,1155.6 1884.6,1155.1 C1886.3,1154.7 1887.9,1154.3 1889.6,1153.9 C1891.3,1153.5 1892.9,1153.1 1894.6,1152.7 C1896.3,1152.3 1898.0,1152.0 1899.6,1151.6 C1901.3,1151.3 1903.0,1151.0 1904.6,1150.7 C1906.3,1150.4 1908.0,1150.1 1909.6,1149.9 C1911.3,1149.7 1913.0,1149.5 1914.7,1149.3 C1916.3,1149.1 1918.0,1148.9 1919.7,1148.8 C1921.3,1148.6 1923.0,1148.5 1924.7,1148.4 C1926.3,1148.4 1928.0,1148.3 1929.7,1148.3 C1931.3,1148.2 1933.0,1148.2 1934.7,1148.3 C1936.4,1148.3 1938.0,1148.3 1939.7,1148.4 C1941.4,1148.5 1943.0,1148.6 1944.7,1148.7 C1946.4,1148.8 1948.0,1149.0 1949.7,1149.2 C1951.4,1149.3 1953.1,1149.5 1954.7,1149.8 C1956.4,1150.0 1958.1,1150.2 1959.7,1150.5 C1961.4,1150.8 1963.1,1151.0 1964.7,1151.3 C1966.4,1151.6 1968.1,1151.9 1969.8,1152.1 C1971.4,1152.4 1973.1,1152.7 1974.8,1153.0 C1976.4,1153.2 1978.1,1153.5 1979.8,1153.7 C1981.4,1153.9 1983.1,1154.2 1984.8,1154.3 C1986.5,1154.5 1988.1,1154.7 1989.8,1154.8 C1991.5,1154.9 1994.0,1155.0 1994.8,1155.1" fill="none" stroke="#FC5A1E" stroke-width="3.8" clip-path="url(#cc3)"/>
<circle cx="1292.9" cy="1227.7" r="3.1" fill="#FC5A1E" stroke="#FFFFFF" stroke-width="1.6"/>
<circle cx="1401" cy="1156.8" r="3.1" fill="#FC5A1E" stroke="#FFFFFF" stroke-width="1.6"/>
<circle cx="1507.4" cy="1153.9" r="3.1" fill="#FC5A1E" stroke="#FFFFFF" stroke-width="1.6"/>
<circle cx="1614.2" cy="1181" r="3.1" fill="#FC5A1E" stroke="#FFFFFF" stroke-width="1.6"/>
<circle cx="1715.2" cy="1191" r="3.1" fill="#FC5A1E" stroke="#FFFFFF" stroke-width="1.6"/>
<circle cx="1827.1" cy="1163.9" r="3.1" fill="#FC5A1E" stroke="#FFFFFF" stroke-width="1.6"/>
<circle cx="1933.5" cy="1148.4" r="3.1" fill="#FC5A1E" stroke="#FFFFFF" stroke-width="1.6"/>
<polygon fill="#000" points="0.0,0.0 14.5,0.0 11.6,1.0 7.3,3.9 4.8,6.3 3.9,7.7 1.9,10.2 1.0,11.6 0.0,14.5"/><polygon fill="#000" points="2048.0,0.0 2033.5,0.0 2036.4,1.0 2040.7,3.9 2043.2,6.3 2044.1,7.7 2046.1,10.2 2047.0,11.6 2048.0,14.5"/><polygon fill="#000" points="0.0,1240.0 14.5,1240.0 11.6,1239.0 7.3,1236.1 4.8,1233.7 3.9,1232.3 1.9,1229.8 1.0,1228.4 0.0,1225.5"/><polygon fill="#000" points="2048.0,1240.0 2033.5,1240.0 2036.4,1239.0 2040.7,1236.1 2043.2,1233.7 2044.1,1232.3 2046.1,1229.8 2047.0,1228.4 2048.0,1225.5"/>
</svg>
</div>
</body></html>
